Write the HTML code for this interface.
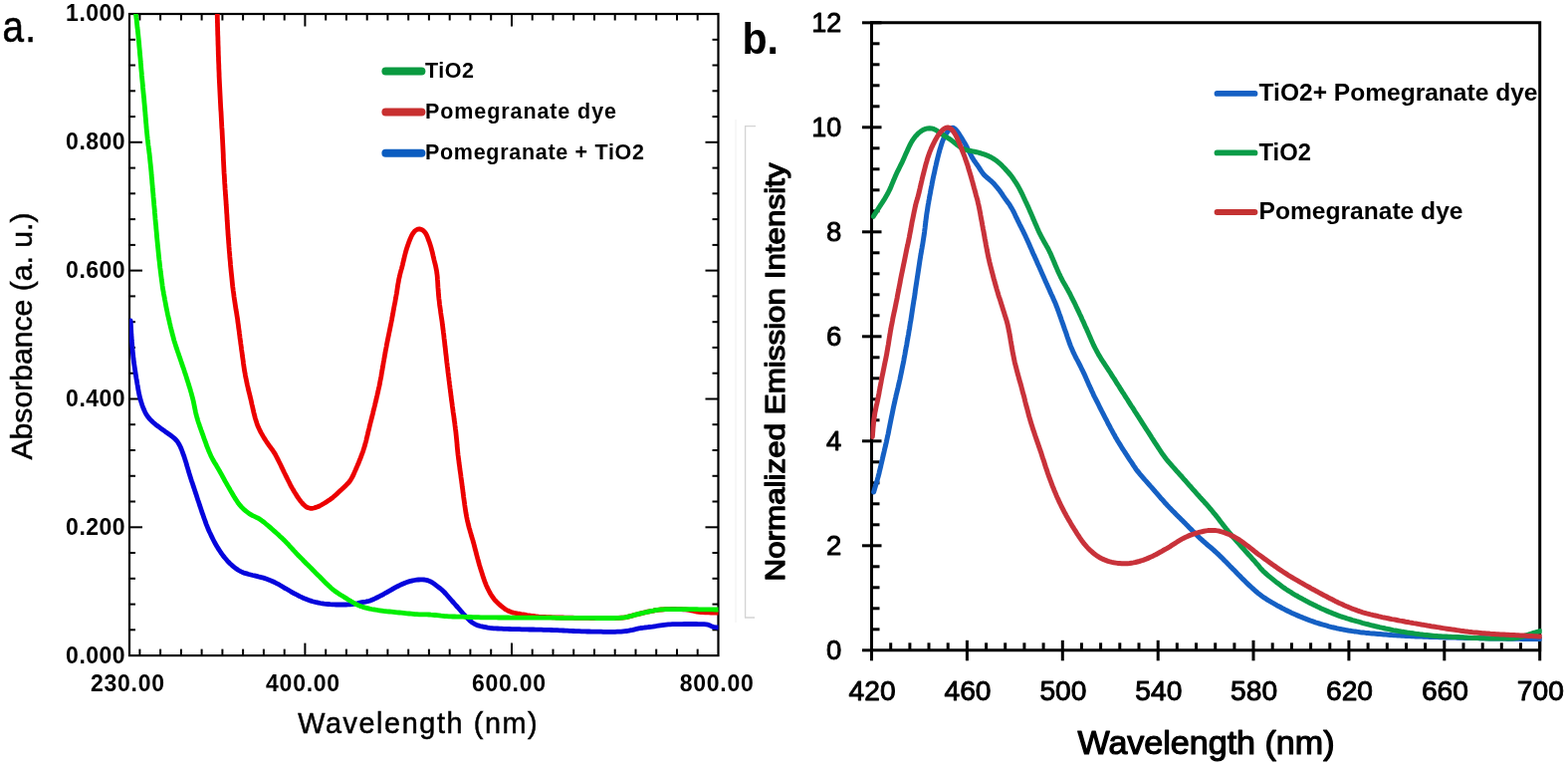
<!DOCTYPE html>
<html><head><meta charset="utf-8"><title>Absorbance and emission spectra</title>
<style>html,body{margin:0;padding:0;background:#fff;width:1575px;height:771px;overflow:hidden}svg{display:block}</style>
</head><body>
<svg width="1575" height="771" viewBox="0 0 1575 771" font-family='"Liberation Sans", Arial, Helvetica, sans-serif'>
<rect x="0" y="0" width="1575" height="771" fill="#fff"/>
<defs><clipPath id="ca"><rect x="130.0" y="14.0" width="591.5" height="644.1"/></clipPath><clipPath id="cb"><rect x="874.5" y="20.8" width="674.2" height="632.0"/></clipPath></defs>
<path d="M759 126.6 H748.6 V620 H758" fill="none" stroke="#d4d4d4" stroke-width="1.3"/>
<line x1="739" y1="120" x2="739" y2="625" stroke="#f0f0f0" stroke-width="1"/>
<rect x="130.0" y="14.0" width="591.5" height="644.1" fill="none" stroke="#000" stroke-width="2.2"/>
<line x1="140.4" y1="658.1" x2="140.4" y2="651.6" stroke="#000" stroke-width="2.0"/>
<line x1="140.4" y1="14.0" x2="140.4" y2="20.5" stroke="#000" stroke-width="2.0"/>
<line x1="161.1" y1="658.1" x2="161.1" y2="651.6" stroke="#000" stroke-width="2.0"/>
<line x1="161.1" y1="14.0" x2="161.1" y2="20.5" stroke="#000" stroke-width="2.0"/>
<line x1="181.9" y1="658.1" x2="181.9" y2="651.6" stroke="#000" stroke-width="2.0"/>
<line x1="181.9" y1="14.0" x2="181.9" y2="20.5" stroke="#000" stroke-width="2.0"/>
<line x1="202.6" y1="658.1" x2="202.6" y2="651.6" stroke="#000" stroke-width="2.0"/>
<line x1="202.6" y1="14.0" x2="202.6" y2="20.5" stroke="#000" stroke-width="2.0"/>
<line x1="223.4" y1="658.1" x2="223.4" y2="651.6" stroke="#000" stroke-width="2.0"/>
<line x1="223.4" y1="14.0" x2="223.4" y2="20.5" stroke="#000" stroke-width="2.0"/>
<line x1="244.1" y1="658.1" x2="244.1" y2="651.6" stroke="#000" stroke-width="2.0"/>
<line x1="244.1" y1="14.0" x2="244.1" y2="20.5" stroke="#000" stroke-width="2.0"/>
<line x1="264.9" y1="658.1" x2="264.9" y2="651.6" stroke="#000" stroke-width="2.0"/>
<line x1="264.9" y1="14.0" x2="264.9" y2="20.5" stroke="#000" stroke-width="2.0"/>
<line x1="285.7" y1="658.1" x2="285.7" y2="651.6" stroke="#000" stroke-width="2.0"/>
<line x1="285.7" y1="14.0" x2="285.7" y2="20.5" stroke="#000" stroke-width="2.0"/>
<line x1="306.4" y1="658.1" x2="306.4" y2="645.6" stroke="#000" stroke-width="2.0"/>
<line x1="306.4" y1="14.0" x2="306.4" y2="26.5" stroke="#000" stroke-width="2.0"/>
<line x1="327.2" y1="658.1" x2="327.2" y2="651.6" stroke="#000" stroke-width="2.0"/>
<line x1="327.2" y1="14.0" x2="327.2" y2="20.5" stroke="#000" stroke-width="2.0"/>
<line x1="347.9" y1="658.1" x2="347.9" y2="651.6" stroke="#000" stroke-width="2.0"/>
<line x1="347.9" y1="14.0" x2="347.9" y2="20.5" stroke="#000" stroke-width="2.0"/>
<line x1="368.7" y1="658.1" x2="368.7" y2="651.6" stroke="#000" stroke-width="2.0"/>
<line x1="368.7" y1="14.0" x2="368.7" y2="20.5" stroke="#000" stroke-width="2.0"/>
<line x1="389.4" y1="658.1" x2="389.4" y2="651.6" stroke="#000" stroke-width="2.0"/>
<line x1="389.4" y1="14.0" x2="389.4" y2="20.5" stroke="#000" stroke-width="2.0"/>
<line x1="410.2" y1="658.1" x2="410.2" y2="651.6" stroke="#000" stroke-width="2.0"/>
<line x1="410.2" y1="14.0" x2="410.2" y2="20.5" stroke="#000" stroke-width="2.0"/>
<line x1="430.9" y1="658.1" x2="430.9" y2="651.6" stroke="#000" stroke-width="2.0"/>
<line x1="430.9" y1="14.0" x2="430.9" y2="20.5" stroke="#000" stroke-width="2.0"/>
<line x1="451.7" y1="658.1" x2="451.7" y2="651.6" stroke="#000" stroke-width="2.0"/>
<line x1="451.7" y1="14.0" x2="451.7" y2="20.5" stroke="#000" stroke-width="2.0"/>
<line x1="472.4" y1="658.1" x2="472.4" y2="651.6" stroke="#000" stroke-width="2.0"/>
<line x1="472.4" y1="14.0" x2="472.4" y2="20.5" stroke="#000" stroke-width="2.0"/>
<line x1="493.2" y1="658.1" x2="493.2" y2="651.6" stroke="#000" stroke-width="2.0"/>
<line x1="493.2" y1="14.0" x2="493.2" y2="20.5" stroke="#000" stroke-width="2.0"/>
<line x1="514.0" y1="658.1" x2="514.0" y2="645.6" stroke="#000" stroke-width="2.0"/>
<line x1="514.0" y1="14.0" x2="514.0" y2="26.5" stroke="#000" stroke-width="2.0"/>
<line x1="534.7" y1="658.1" x2="534.7" y2="651.6" stroke="#000" stroke-width="2.0"/>
<line x1="534.7" y1="14.0" x2="534.7" y2="20.5" stroke="#000" stroke-width="2.0"/>
<line x1="555.5" y1="658.1" x2="555.5" y2="651.6" stroke="#000" stroke-width="2.0"/>
<line x1="555.5" y1="14.0" x2="555.5" y2="20.5" stroke="#000" stroke-width="2.0"/>
<line x1="576.2" y1="658.1" x2="576.2" y2="651.6" stroke="#000" stroke-width="2.0"/>
<line x1="576.2" y1="14.0" x2="576.2" y2="20.5" stroke="#000" stroke-width="2.0"/>
<line x1="597.0" y1="658.1" x2="597.0" y2="651.6" stroke="#000" stroke-width="2.0"/>
<line x1="597.0" y1="14.0" x2="597.0" y2="20.5" stroke="#000" stroke-width="2.0"/>
<line x1="617.7" y1="658.1" x2="617.7" y2="651.6" stroke="#000" stroke-width="2.0"/>
<line x1="617.7" y1="14.0" x2="617.7" y2="20.5" stroke="#000" stroke-width="2.0"/>
<line x1="638.5" y1="658.1" x2="638.5" y2="651.6" stroke="#000" stroke-width="2.0"/>
<line x1="638.5" y1="14.0" x2="638.5" y2="20.5" stroke="#000" stroke-width="2.0"/>
<line x1="659.2" y1="658.1" x2="659.2" y2="651.6" stroke="#000" stroke-width="2.0"/>
<line x1="659.2" y1="14.0" x2="659.2" y2="20.5" stroke="#000" stroke-width="2.0"/>
<line x1="680.0" y1="658.1" x2="680.0" y2="651.6" stroke="#000" stroke-width="2.0"/>
<line x1="680.0" y1="14.0" x2="680.0" y2="20.5" stroke="#000" stroke-width="2.0"/>
<line x1="700.7" y1="658.1" x2="700.7" y2="651.6" stroke="#000" stroke-width="2.0"/>
<line x1="700.7" y1="14.0" x2="700.7" y2="20.5" stroke="#000" stroke-width="2.0"/>
<line x1="130.0" y1="632.3" x2="136.0" y2="632.3" stroke="#000" stroke-width="2.0"/>
<line x1="721.5" y1="632.3" x2="715.5" y2="632.3" stroke="#000" stroke-width="2.0"/>
<line x1="130.0" y1="606.6" x2="136.0" y2="606.6" stroke="#000" stroke-width="2.0"/>
<line x1="721.5" y1="606.6" x2="715.5" y2="606.6" stroke="#000" stroke-width="2.0"/>
<line x1="130.0" y1="580.8" x2="136.0" y2="580.8" stroke="#000" stroke-width="2.0"/>
<line x1="721.5" y1="580.8" x2="715.5" y2="580.8" stroke="#000" stroke-width="2.0"/>
<line x1="130.0" y1="555.0" x2="136.0" y2="555.0" stroke="#000" stroke-width="2.0"/>
<line x1="721.5" y1="555.0" x2="715.5" y2="555.0" stroke="#000" stroke-width="2.0"/>
<line x1="130.0" y1="529.3" x2="143.0" y2="529.3" stroke="#000" stroke-width="2.0"/>
<line x1="721.5" y1="529.3" x2="708.5" y2="529.3" stroke="#000" stroke-width="2.0"/>
<line x1="130.0" y1="503.5" x2="136.0" y2="503.5" stroke="#000" stroke-width="2.0"/>
<line x1="721.5" y1="503.5" x2="715.5" y2="503.5" stroke="#000" stroke-width="2.0"/>
<line x1="130.0" y1="477.8" x2="136.0" y2="477.8" stroke="#000" stroke-width="2.0"/>
<line x1="721.5" y1="477.8" x2="715.5" y2="477.8" stroke="#000" stroke-width="2.0"/>
<line x1="130.0" y1="452.0" x2="136.0" y2="452.0" stroke="#000" stroke-width="2.0"/>
<line x1="721.5" y1="452.0" x2="715.5" y2="452.0" stroke="#000" stroke-width="2.0"/>
<line x1="130.0" y1="426.2" x2="136.0" y2="426.2" stroke="#000" stroke-width="2.0"/>
<line x1="721.5" y1="426.2" x2="715.5" y2="426.2" stroke="#000" stroke-width="2.0"/>
<line x1="130.0" y1="400.5" x2="143.0" y2="400.5" stroke="#000" stroke-width="2.0"/>
<line x1="721.5" y1="400.5" x2="708.5" y2="400.5" stroke="#000" stroke-width="2.0"/>
<line x1="130.0" y1="374.7" x2="136.0" y2="374.7" stroke="#000" stroke-width="2.0"/>
<line x1="721.5" y1="374.7" x2="715.5" y2="374.7" stroke="#000" stroke-width="2.0"/>
<line x1="130.0" y1="348.9" x2="136.0" y2="348.9" stroke="#000" stroke-width="2.0"/>
<line x1="721.5" y1="348.9" x2="715.5" y2="348.9" stroke="#000" stroke-width="2.0"/>
<line x1="130.0" y1="323.2" x2="136.0" y2="323.2" stroke="#000" stroke-width="2.0"/>
<line x1="721.5" y1="323.2" x2="715.5" y2="323.2" stroke="#000" stroke-width="2.0"/>
<line x1="130.0" y1="297.4" x2="136.0" y2="297.4" stroke="#000" stroke-width="2.0"/>
<line x1="721.5" y1="297.4" x2="715.5" y2="297.4" stroke="#000" stroke-width="2.0"/>
<line x1="130.0" y1="271.6" x2="143.0" y2="271.6" stroke="#000" stroke-width="2.0"/>
<line x1="721.5" y1="271.6" x2="708.5" y2="271.6" stroke="#000" stroke-width="2.0"/>
<line x1="130.0" y1="245.9" x2="136.0" y2="245.9" stroke="#000" stroke-width="2.0"/>
<line x1="721.5" y1="245.9" x2="715.5" y2="245.9" stroke="#000" stroke-width="2.0"/>
<line x1="130.0" y1="220.1" x2="136.0" y2="220.1" stroke="#000" stroke-width="2.0"/>
<line x1="721.5" y1="220.1" x2="715.5" y2="220.1" stroke="#000" stroke-width="2.0"/>
<line x1="130.0" y1="194.3" x2="136.0" y2="194.3" stroke="#000" stroke-width="2.0"/>
<line x1="721.5" y1="194.3" x2="715.5" y2="194.3" stroke="#000" stroke-width="2.0"/>
<line x1="130.0" y1="168.6" x2="136.0" y2="168.6" stroke="#000" stroke-width="2.0"/>
<line x1="721.5" y1="168.6" x2="715.5" y2="168.6" stroke="#000" stroke-width="2.0"/>
<line x1="130.0" y1="142.8" x2="143.0" y2="142.8" stroke="#000" stroke-width="2.0"/>
<line x1="721.5" y1="142.8" x2="708.5" y2="142.8" stroke="#000" stroke-width="2.0"/>
<line x1="130.0" y1="117.1" x2="136.0" y2="117.1" stroke="#000" stroke-width="2.0"/>
<line x1="721.5" y1="117.1" x2="715.5" y2="117.1" stroke="#000" stroke-width="2.0"/>
<line x1="130.0" y1="91.3" x2="136.0" y2="91.3" stroke="#000" stroke-width="2.0"/>
<line x1="721.5" y1="91.3" x2="715.5" y2="91.3" stroke="#000" stroke-width="2.0"/>
<line x1="130.0" y1="65.5" x2="136.0" y2="65.5" stroke="#000" stroke-width="2.0"/>
<line x1="721.5" y1="65.5" x2="715.5" y2="65.5" stroke="#000" stroke-width="2.0"/>
<line x1="130.0" y1="39.8" x2="136.0" y2="39.8" stroke="#000" stroke-width="2.0"/>
<line x1="721.5" y1="39.8" x2="715.5" y2="39.8" stroke="#000" stroke-width="2.0"/>
<g clip-path="url(#ca)" fill="none" stroke-width="4.8" stroke-linejoin="round" stroke-linecap="round"><path d="M218.2 12.0 L218.3 14.0 L218.3 16.0 L218.3 18.0 L218.4 20.0 L218.4 22.0 L218.5 24.0 L218.5 26.0 L218.6 28.0 L218.6 30.0 L218.7 32.0 L218.7 34.0 L218.8 36.0 L218.9 38.0 L218.9 40.0 L219.0 42.0 L219.0 44.0 L219.1 46.0 L219.2 48.0 L219.2 50.0 L219.3 52.0 L219.3 54.0 L219.4 56.0 L219.5 58.0 L219.5 60.0 L219.6 62.0 L219.7 64.0 L219.8 66.0 L219.8 68.0 L219.9 70.0 L220.0 72.0 L220.1 74.0 L220.1 76.0 L220.2 78.0 L220.3 80.0 L220.4 82.0 L220.5 84.0 L220.6 86.0 L220.7 88.0 L220.8 90.0 L220.9 92.0 L221.0 94.0 L221.1 96.0 L221.2 98.0 L221.3 100.0 L221.4 102.0 L221.5 104.0 L221.6 106.0 L221.7 108.0 L221.8 110.0 L222.0 112.0 L222.1 113.9 L222.2 115.9 L222.3 117.9 L222.4 119.9 L222.5 121.9 L222.6 123.9 L222.7 125.9 L222.8 127.9 L223.0 129.9 L223.1 131.9 L223.2 133.9 L223.3 135.9 L223.4 137.9 L223.5 139.9 L223.6 141.9 L223.7 143.9 L223.8 145.9 L223.9 147.9 L224.0 149.9 L224.1 151.9 L224.2 153.9 L224.3 155.9 L224.3 157.9 L224.4 159.9 L224.5 161.9 L224.6 163.9 L224.7 165.9 L224.8 167.9 L224.9 169.9 L225.0 171.9 L225.1 173.9 L225.3 175.9 L225.4 177.9 L225.5 179.9 L225.6 181.9 L225.7 183.9 L225.9 185.9 L226.0 187.9 L226.1 189.9 L226.3 191.9 L226.4 193.8 L226.5 195.8 L226.7 197.8 L226.8 199.8 L227.0 201.8 L227.1 203.8 L227.2 205.8 L227.4 207.8 L227.5 209.8 L227.6 211.8 L227.7 213.8 L227.9 215.8 L228.0 217.8 L228.1 219.8 L228.2 221.8 L228.4 223.8 L228.5 225.8 L228.6 227.8 L228.7 229.8 L228.9 231.8 L229.0 233.8 L229.1 235.8 L229.3 237.8 L229.4 239.8 L229.6 241.8 L229.7 243.8 L229.9 245.7 L230.0 247.7 L230.2 249.7 L230.3 251.7 L230.5 253.7 L230.7 255.7 L230.8 257.7 L231.0 259.7 L231.2 261.7 L231.4 263.7 L231.5 265.7 L231.7 267.7 L231.9 269.7 L232.1 271.7 L232.3 273.7 L232.5 275.6 L232.7 277.6 L232.9 279.6 L233.1 281.6 L233.3 283.6 L233.5 285.6 L233.7 287.6 L234.0 289.6 L234.2 291.5 L234.5 293.5 L234.8 295.5 L235.0 297.5 L235.3 299.5 L235.6 301.5 L235.9 303.4 L236.2 305.4 L236.5 307.4 L236.8 309.4 L237.1 311.3 L237.5 313.3 L237.8 315.3 L238.1 317.3 L238.4 319.2 L238.7 321.2 L238.9 323.2 L239.2 325.2 L239.5 327.2 L239.7 329.2 L240.0 331.1 L240.3 333.1 L240.5 335.1 L240.8 337.1 L241.0 339.1 L241.3 341.1 L241.6 343.0 L241.8 345.0 L242.1 347.0 L242.4 349.0 L242.6 351.0 L242.9 353.0 L243.2 354.9 L243.4 356.9 L243.7 358.9 L244.0 360.9 L244.3 362.9 L244.5 364.8 L244.8 366.8 L245.1 368.8 L245.4 370.8 L245.7 372.8 L246.1 374.7 L246.4 376.7 L246.8 378.7 L247.2 380.6 L247.6 382.6 L248.0 384.5 L248.4 386.5 L248.9 388.4 L249.3 390.4 L249.8 392.3 L250.3 394.3 L250.8 396.2 L251.2 398.2 L251.7 400.1 L252.2 402.1 L252.6 404.0 L253.0 406.0 L253.5 407.9 L253.9 409.9 L254.4 411.8 L254.8 413.8 L255.3 415.7 L255.8 417.6 L256.3 419.6 L256.9 421.5 L257.5 423.4 L258.1 425.3 L258.8 427.2 L259.6 429.0 L260.4 430.8 L261.3 432.6 L262.2 434.4 L263.2 436.1 L264.2 437.9 L265.2 439.6 L266.3 441.3 L267.4 443.0 L268.5 444.6 L269.7 446.3 L270.8 447.9 L272.0 449.5 L273.2 451.1 L274.3 452.7 L275.4 454.4 L276.5 456.1 L277.4 457.9 L278.3 459.6 L279.2 461.4 L280.1 463.2 L281.0 465.0 L281.9 466.8 L282.7 468.6 L283.6 470.4 L284.5 472.2 L285.3 474.0 L286.2 475.8 L287.1 477.6 L288.0 479.4 L288.9 481.2 L289.8 483.0 L290.7 484.8 L291.6 486.6 L292.5 488.3 L293.5 490.1 L294.5 491.8 L295.5 493.5 L296.6 495.2 L297.6 496.9 L298.7 498.6 L299.8 500.3 L301.0 501.9 L302.2 503.5 L303.5 505.0 L304.9 506.5 L306.3 507.8 L307.9 509.0 L309.6 509.8 L311.5 510.3 L313.4 510.3 L315.3 510.0 L317.2 509.4 L319.1 508.8 L320.9 508.0 L322.7 507.0 L324.4 506.0 L326.1 505.0 L327.8 503.9 L329.5 502.8 L331.2 501.7 L332.8 500.6 L334.4 499.3 L335.9 498.0 L337.4 496.7 L338.9 495.4 L340.3 494.0 L341.8 492.6 L343.3 491.3 L344.7 489.9 L346.2 488.5 L347.6 487.2 L349.0 485.7 L350.4 484.3 L351.6 482.7 L352.7 481.0 L353.6 479.3 L354.6 477.5 L355.4 475.7 L356.2 473.9 L357.0 472.1 L357.8 470.2 L358.6 468.4 L359.4 466.5 L360.2 464.7 L360.9 462.8 L361.7 461.0 L362.4 459.1 L363.1 457.2 L363.8 455.4 L364.5 453.5 L365.1 451.6 L365.7 449.7 L366.3 447.8 L366.8 445.8 L367.4 443.9 L367.9 442.0 L368.3 440.0 L368.8 438.1 L369.3 436.1 L369.7 434.2 L370.2 432.2 L370.7 430.3 L371.1 428.4 L371.6 426.4 L372.1 424.5 L372.6 422.5 L373.1 420.6 L373.6 418.7 L374.1 416.7 L374.6 414.8 L375.0 412.8 L375.5 410.9 L376.0 409.0 L376.5 407.0 L376.9 405.1 L377.4 403.1 L377.9 401.2 L378.3 399.2 L378.8 397.3 L379.2 395.3 L379.7 393.4 L380.1 391.4 L380.5 389.5 L381.0 387.5 L381.4 385.6 L381.7 383.6 L382.1 381.6 L382.5 379.7 L382.9 377.7 L383.2 375.7 L383.5 373.8 L383.9 371.8 L384.2 369.8 L384.6 367.8 L384.9 365.9 L385.2 363.9 L385.6 361.9 L385.9 360.0 L386.3 358.0 L386.6 356.0 L387.0 354.0 L387.3 352.1 L387.7 350.1 L388.1 348.1 L388.4 346.2 L388.8 344.2 L389.2 342.3 L389.6 340.3 L390.0 338.3 L390.4 336.4 L390.8 334.4 L391.2 332.5 L391.6 330.5 L392.0 328.5 L392.4 326.6 L392.8 324.6 L393.2 322.6 L393.6 320.7 L393.9 318.7 L394.3 316.7 L394.7 314.8 L395.0 312.8 L395.4 310.8 L395.7 308.9 L396.1 306.9 L396.5 304.9 L396.9 303.0 L397.2 301.0 L397.6 299.0 L397.9 297.1 L398.3 295.1 L398.6 293.1 L398.9 291.2 L399.2 289.2 L399.5 287.2 L399.8 285.2 L400.2 283.3 L400.5 281.3 L400.9 279.3 L401.4 277.4 L401.8 275.4 L402.3 273.5 L402.8 271.6 L403.4 269.6 L403.9 267.7 L404.4 265.8 L404.8 263.8 L405.3 261.9 L405.8 259.9 L406.2 258.0 L406.7 256.0 L407.2 254.1 L407.7 252.2 L408.3 250.2 L408.9 248.3 L409.6 246.4 L410.2 244.6 L410.9 242.7 L411.6 240.8 L412.4 239.0 L413.2 237.1 L414.1 235.4 L415.2 233.7 L416.4 232.2 L417.9 231.0 L419.6 230.1 L421.3 229.9 L423.1 230.3 L424.8 231.2 L426.2 232.5 L427.4 234.0 L428.4 235.7 L429.2 237.5 L429.9 239.4 L430.6 241.3 L431.3 243.1 L431.9 245.0 L432.5 246.9 L433.1 248.9 L433.6 250.8 L434.1 252.7 L434.6 254.7 L435.0 256.6 L435.5 258.6 L435.9 260.5 L436.4 262.5 L436.9 264.4 L437.4 266.3 L437.8 268.3 L438.2 270.3 L438.6 272.2 L438.8 274.2 L439.1 276.2 L439.3 278.2 L439.4 280.2 L439.6 282.2 L439.7 284.2 L439.8 286.2 L439.9 288.2 L440.1 290.2 L440.2 292.1 L440.4 294.1 L440.5 296.1 L440.7 298.1 L440.9 300.1 L441.2 302.1 L441.4 304.1 L441.6 306.1 L441.9 308.1 L442.2 310.0 L442.5 312.0 L442.7 314.0 L443.0 316.0 L443.3 318.0 L443.6 319.9 L443.9 321.9 L444.2 323.9 L444.4 325.9 L444.7 327.9 L444.9 329.9 L445.2 331.8 L445.4 333.8 L445.7 335.8 L445.9 337.8 L446.1 339.8 L446.4 341.8 L446.6 343.8 L446.8 345.7 L447.0 347.7 L447.3 349.7 L447.5 351.7 L447.7 353.7 L447.9 355.7 L448.2 357.7 L448.4 359.7 L448.6 361.7 L448.8 363.6 L449.1 365.6 L449.3 367.6 L449.6 369.6 L449.8 371.6 L450.0 373.6 L450.3 375.6 L450.5 377.5 L450.8 379.5 L451.0 381.5 L451.3 383.5 L451.5 385.5 L451.8 387.5 L452.0 389.5 L452.3 391.4 L452.5 393.4 L452.8 395.4 L453.0 397.4 L453.3 399.4 L453.5 401.4 L453.8 403.3 L454.1 405.3 L454.3 407.3 L454.6 409.3 L454.9 411.3 L455.1 413.3 L455.4 415.2 L455.7 417.2 L456.0 419.2 L456.2 421.2 L456.5 423.2 L456.8 425.1 L457.0 427.1 L457.3 429.1 L457.5 431.1 L457.8 433.1 L458.0 435.1 L458.2 437.1 L458.4 439.1 L458.6 441.0 L458.8 443.0 L459.0 445.0 L459.1 447.0 L459.3 449.0 L459.5 451.0 L459.7 453.0 L459.9 455.0 L460.1 457.0 L460.4 459.0 L460.6 460.9 L460.9 462.9 L461.1 464.9 L461.4 466.9 L461.7 468.9 L461.9 470.9 L462.2 472.8 L462.5 474.8 L462.8 476.8 L463.0 478.8 L463.3 480.8 L463.6 482.8 L463.8 484.7 L464.1 486.7 L464.3 488.7 L464.6 490.7 L464.9 492.7 L465.1 494.7 L465.4 496.6 L465.6 498.6 L465.9 500.6 L466.2 502.6 L466.5 504.6 L466.7 506.5 L467.0 508.5 L467.3 510.5 L467.6 512.5 L467.9 514.5 L468.3 516.4 L468.6 518.4 L469.0 520.4 L469.4 522.3 L469.9 524.3 L470.3 526.2 L470.8 528.2 L471.3 530.1 L471.9 532.0 L472.4 533.9 L473.0 535.9 L473.5 537.8 L474.1 539.7 L474.7 541.6 L475.2 543.5 L475.8 545.5 L476.3 547.4 L476.8 549.3 L477.3 551.3 L477.8 553.2 L478.3 555.1 L478.8 557.1 L479.3 559.0 L479.8 560.9 L480.4 562.9 L480.9 564.8 L481.4 566.7 L482.0 568.6 L482.6 570.6 L483.2 572.5 L483.8 574.4 L484.4 576.3 L485.0 578.2 L485.6 580.1 L486.3 582.0 L486.9 583.9 L487.7 585.7 L488.4 587.6 L489.2 589.4 L490.1 591.2 L491.0 593.0 L491.9 594.8 L492.9 596.5 L494.0 598.2 L495.1 599.8 L496.3 601.4 L497.6 603.0 L499.0 604.4 L500.4 605.8 L501.9 607.1 L503.4 608.4 L505.0 609.7 L506.6 610.9 L508.2 612.0 L510.0 613.0 L511.8 613.8 L513.6 614.5 L515.5 615.1 L517.5 615.5 L519.5 615.9 L521.4 616.2 L523.4 616.6 L525.4 616.9 L527.3 617.2 L529.3 617.6 L531.3 617.9 L533.3 618.2 L535.2 618.4 L537.2 618.7 L539.2 619.0 L541.2 619.2 L543.2 619.3 L545.2 619.4 L547.2 619.5 L549.2 619.6 L551.2 619.6 L553.2 619.7 L555.2 619.8 L557.2 619.8 L559.2 619.9 L561.2 619.9 L563.2 620.0 L565.2 620.0 L567.2 620.1 L569.2 620.1 L571.2 620.2 L573.2 620.2 L575.2 620.2 L577.2 620.3 L579.2 620.3 L581.2 620.3 L583.2 620.3 L585.2 620.4 L587.2 620.4 L589.2 620.4 L591.2 620.4 L593.2 620.5 L595.2 620.5 L597.2 620.5 L599.2 620.5 L601.2 620.5 L603.2 620.6 L605.2 620.6 L607.2 620.6 L609.2 620.6 L611.2 620.6 L613.2 620.5 L615.2 620.5 L617.2 620.5 L619.2 620.4 L621.2 620.4 L623.2 620.2 L625.2 620.1 L627.2 619.9 L629.1 619.6 L631.1 619.1 L633.0 618.6 L634.9 618.1 L636.9 617.5 L638.8 617.0 L640.7 616.6 L642.7 616.1 L644.6 615.6 L646.6 615.1 L648.5 614.7 L650.5 614.2 L652.4 613.8 L654.4 613.4 L656.4 613.1 L658.3 612.7 L660.3 612.5 L662.3 612.2 L664.3 612.0 L666.3 611.9 L668.3 611.7 L670.3 611.6 L672.3 611.6 L674.3 611.5 L676.3 611.5 L678.3 611.5 L680.3 611.6 L682.3 611.6 L684.3 611.7 L686.3 611.8 L688.3 611.9 L690.3 612.1 L692.2 612.4 L694.2 612.8 L696.1 613.2 L698.1 613.7 L700.0 614.1 L702.0 614.3 L704.0 614.5 L706.0 614.7 L708.0 614.8 L710.0 614.8 L712.0 614.9 L714.0 615.0 L716.0 615.0 L718.0 615.1 L720.0 615.1 L722.0 615.2 L723.0 615.2" stroke="#ec0000"/><path d="M131.2 322.0 L131.3 324.0 L131.4 326.0 L131.5 328.0 L131.6 330.0 L131.7 332.0 L131.8 334.0 L131.9 336.0 L132.1 338.0 L132.2 340.0 L132.3 342.0 L132.5 344.0 L132.7 346.0 L132.8 348.0 L133.0 350.0 L133.2 352.0 L133.4 353.9 L133.6 355.9 L133.8 357.9 L134.0 359.9 L134.3 361.9 L134.5 363.9 L134.8 365.9 L135.1 367.9 L135.4 369.8 L135.7 371.8 L136.0 373.8 L136.3 375.8 L136.6 377.7 L136.9 379.7 L137.3 381.7 L137.6 383.7 L137.9 385.6 L138.3 387.6 L138.6 389.6 L138.9 391.6 L139.3 393.5 L139.7 395.5 L140.1 397.4 L140.6 399.4 L141.1 401.3 L141.7 403.2 L142.3 405.1 L142.9 407.0 L143.6 408.9 L144.4 410.8 L145.2 412.6 L146.0 414.4 L147.0 416.1 L148.1 417.8 L149.3 419.4 L150.6 420.9 L152.0 422.3 L153.5 423.7 L155.0 425.0 L156.5 426.3 L158.1 427.5 L159.7 428.7 L161.3 429.9 L162.9 431.1 L164.6 432.2 L166.2 433.4 L167.8 434.5 L169.5 435.7 L171.1 436.8 L172.7 438.0 L174.3 439.3 L175.8 440.6 L177.1 442.0 L178.4 443.6 L179.4 445.3 L180.4 447.0 L181.3 448.8 L182.1 450.7 L182.8 452.5 L183.5 454.4 L184.2 456.3 L184.9 458.2 L185.5 460.1 L186.1 462.0 L186.7 463.9 L187.3 465.8 L187.8 467.7 L188.4 469.6 L189.0 471.6 L189.5 473.5 L190.1 475.4 L190.7 477.3 L191.3 479.2 L191.9 481.1 L192.5 483.0 L193.2 484.9 L193.8 486.8 L194.4 488.7 L195.1 490.6 L195.7 492.5 L196.3 494.4 L197.0 496.3 L197.6 498.2 L198.2 500.1 L198.8 502.0 L199.5 503.9 L200.1 505.8 L200.7 507.7 L201.4 509.6 L202.0 511.5 L202.6 513.4 L203.3 515.3 L204.0 517.2 L204.6 519.1 L205.3 521.0 L206.0 522.8 L206.6 524.7 L207.3 526.6 L208.1 528.5 L208.8 530.3 L209.6 532.2 L210.4 534.0 L211.3 535.8 L212.1 537.6 L213.0 539.4 L213.9 541.2 L214.8 543.0 L215.7 544.8 L216.7 546.5 L217.7 548.2 L218.7 549.9 L219.8 551.6 L220.9 553.3 L222.0 555.0 L223.2 556.6 L224.4 558.2 L225.6 559.8 L226.9 561.3 L228.2 562.8 L229.6 564.3 L231.0 565.7 L232.5 567.0 L234.0 568.4 L235.5 569.6 L237.1 570.8 L238.8 572.0 L240.5 573.0 L242.2 573.9 L244.1 574.7 L245.9 575.4 L247.9 575.9 L249.8 576.5 L251.7 577.0 L253.7 577.5 L255.6 577.9 L257.6 578.4 L259.5 578.9 L261.4 579.3 L263.4 579.8 L265.3 580.4 L267.2 581.0 L269.1 581.7 L270.9 582.4 L272.8 583.2 L274.6 584.0 L276.4 584.9 L278.2 585.8 L280.0 586.7 L281.7 587.7 L283.4 588.7 L285.1 589.8 L286.9 590.8 L288.6 591.8 L290.3 592.8 L292.0 593.8 L293.8 594.8 L295.6 595.8 L297.3 596.7 L299.1 597.6 L300.9 598.6 L302.7 599.4 L304.5 600.3 L306.3 601.1 L308.2 601.8 L310.1 602.5 L312.0 603.1 L313.9 603.7 L315.8 604.2 L317.7 604.7 L319.7 605.1 L321.7 605.5 L323.6 605.8 L325.6 606.1 L327.6 606.3 L329.6 606.5 L331.6 606.7 L333.6 606.8 L335.6 606.9 L337.6 607.0 L339.6 607.0 L341.6 607.0 L343.6 607.0 L345.6 607.0 L347.6 607.0 L349.6 606.9 L351.6 606.8 L353.6 606.6 L355.6 606.4 L357.5 606.0 L359.5 605.6 L361.4 605.1 L363.4 604.7 L365.3 604.4 L367.3 604.1 L369.3 603.7 L371.2 603.2 L373.0 602.5 L374.9 601.7 L376.7 600.9 L378.5 600.0 L380.3 599.1 L382.1 598.2 L383.8 597.3 L385.6 596.3 L387.3 595.3 L389.1 594.3 L390.8 593.4 L392.6 592.4 L394.3 591.4 L396.0 590.4 L397.8 589.4 L399.6 588.5 L401.4 587.6 L403.2 586.8 L405.0 586.0 L406.8 585.2 L408.7 584.5 L410.6 583.9 L412.5 583.3 L414.5 582.8 L416.4 582.5 L418.4 582.2 L420.4 582.0 L422.4 581.9 L424.4 581.9 L426.4 582.0 L428.3 582.4 L430.2 582.9 L432.1 583.7 L433.8 584.6 L435.5 585.7 L437.1 586.9 L438.7 588.1 L440.3 589.3 L441.9 590.5 L443.4 591.8 L444.9 593.1 L446.3 594.5 L447.7 596.0 L449.0 597.5 L450.3 599.0 L451.6 600.5 L452.9 602.0 L454.2 603.5 L455.6 605.0 L456.9 606.5 L458.2 608.0 L459.6 609.5 L460.9 611.0 L462.2 612.5 L463.5 614.0 L464.8 615.6 L466.2 617.1 L467.5 618.5 L468.9 620.0 L470.3 621.4 L471.7 622.8 L473.3 624.1 L474.8 625.3 L476.5 626.3 L478.3 627.2 L480.2 627.9 L482.1 628.5 L484.0 628.9 L486.0 629.3 L487.9 629.7 L489.9 630.1 L491.9 630.4 L493.9 630.6 L495.9 630.8 L497.9 630.9 L499.9 631.0 L501.9 631.1 L503.9 631.2 L505.9 631.3 L507.9 631.4 L509.9 631.4 L511.9 631.5 L513.9 631.6 L515.9 631.6 L517.9 631.7 L519.9 631.7 L521.9 631.7 L523.9 631.8 L525.9 631.8 L527.9 631.9 L529.9 631.9 L531.9 632.0 L533.9 632.0 L535.9 632.0 L537.9 632.1 L539.9 632.1 L541.9 632.2 L543.9 632.2 L545.9 632.3 L547.9 632.3 L549.9 632.4 L551.9 632.4 L553.9 632.5 L555.9 632.6 L557.9 632.6 L559.9 632.7 L561.9 632.8 L563.9 632.9 L565.9 633.0 L567.9 633.1 L569.9 633.2 L571.9 633.3 L573.9 633.4 L575.9 633.5 L577.9 633.6 L579.9 633.6 L581.9 633.7 L583.9 633.8 L585.9 633.9 L587.9 633.9 L589.9 634.0 L591.9 634.0 L593.9 634.1 L595.9 634.1 L597.9 634.2 L599.9 634.2 L601.9 634.2 L603.9 634.2 L605.9 634.3 L607.9 634.3 L609.9 634.3 L611.9 634.3 L613.9 634.3 L615.9 634.3 L617.9 634.3 L619.9 634.2 L621.9 634.1 L623.9 634.1 L625.9 633.9 L627.9 633.7 L629.9 633.5 L631.8 633.1 L633.8 632.7 L635.7 632.3 L637.7 631.8 L639.6 631.3 L641.6 630.9 L643.5 630.5 L645.5 630.3 L647.5 630.0 L649.5 629.8 L651.5 629.5 L653.5 629.3 L655.5 629.1 L657.4 628.8 L659.4 628.5 L661.4 628.2 L663.4 627.9 L665.3 627.6 L667.3 627.3 L669.3 627.1 L671.3 626.9 L673.3 626.8 L675.3 626.7 L677.3 626.7 L679.3 626.6 L681.3 626.6 L683.3 626.6 L685.3 626.6 L687.3 626.5 L689.3 626.5 L691.3 626.5 L693.3 626.5 L695.3 626.5 L697.3 626.5 L699.3 626.5 L701.3 626.6 L703.3 626.6 L705.3 626.6 L707.3 626.7 L709.3 626.9 L711.2 627.2 L712.9 627.8 L714.6 628.6 L716.2 629.3 L718.1 629.7 L720.0 629.9 L722.0 630.0 L723.0 630.0" stroke="#0505dc"/><path d="M136.3 12.0 L136.5 14.0 L136.7 16.0 L136.9 18.0 L137.2 20.0 L137.4 21.9 L137.6 23.9 L137.8 25.9 L138.0 27.9 L138.3 29.9 L138.5 31.9 L138.7 33.9 L138.9 35.9 L139.1 37.9 L139.3 39.9 L139.5 41.8 L139.7 43.8 L139.8 45.8 L140.0 47.8 L140.2 49.8 L140.4 51.8 L140.5 53.8 L140.7 55.8 L140.9 57.8 L141.1 59.8 L141.2 61.8 L141.4 63.8 L141.6 65.8 L141.7 67.8 L141.9 69.8 L142.1 71.8 L142.3 73.7 L142.4 75.7 L142.6 77.7 L142.8 79.7 L143.0 81.7 L143.2 83.7 L143.4 85.7 L143.5 87.7 L143.7 89.7 L143.9 91.7 L144.1 93.7 L144.3 95.7 L144.5 97.7 L144.7 99.6 L144.8 101.6 L145.0 103.6 L145.2 105.6 L145.4 107.6 L145.5 109.6 L145.7 111.6 L145.9 113.6 L146.0 115.6 L146.2 117.6 L146.4 119.6 L146.5 121.6 L146.7 123.6 L146.9 125.6 L147.0 127.6 L147.2 129.6 L147.4 131.5 L147.6 133.5 L147.8 135.5 L148.0 137.5 L148.2 139.5 L148.5 141.5 L148.7 143.5 L148.9 145.5 L149.2 147.5 L149.4 149.4 L149.7 151.4 L149.9 153.4 L150.2 155.4 L150.4 157.4 L150.6 159.4 L150.8 161.4 L151.0 163.4 L151.2 165.3 L151.4 167.3 L151.6 169.3 L151.8 171.3 L152.0 173.3 L152.1 175.3 L152.3 177.3 L152.5 179.3 L152.7 181.3 L152.8 183.3 L153.0 185.3 L153.2 187.3 L153.3 189.3 L153.5 191.3 L153.7 193.3 L153.9 195.2 L154.0 197.2 L154.2 199.2 L154.4 201.2 L154.6 203.2 L154.7 205.2 L154.9 207.2 L155.1 209.2 L155.3 211.2 L155.4 213.2 L155.6 215.2 L155.8 217.2 L155.9 219.2 L156.1 221.2 L156.3 223.2 L156.5 225.2 L156.7 227.1 L156.8 229.1 L157.0 231.1 L157.2 233.1 L157.4 235.1 L157.5 237.1 L157.7 239.1 L157.9 241.1 L158.1 243.1 L158.3 245.1 L158.5 247.1 L158.7 249.1 L158.9 251.1 L159.1 253.0 L159.3 255.0 L159.5 257.0 L159.7 259.0 L159.9 261.0 L160.2 263.0 L160.4 265.0 L160.6 267.0 L160.8 269.0 L161.1 270.9 L161.3 272.9 L161.6 274.9 L161.8 276.9 L162.1 278.9 L162.3 280.9 L162.6 282.9 L162.9 284.8 L163.1 286.8 L163.4 288.8 L163.7 290.8 L164.1 292.7 L164.4 294.7 L164.8 296.7 L165.2 298.7 L165.5 300.6 L165.9 302.6 L166.3 304.6 L166.6 306.5 L167.0 308.5 L167.4 310.4 L167.8 312.4 L168.2 314.4 L168.6 316.3 L169.1 318.3 L169.5 320.2 L170.0 322.2 L170.4 324.1 L170.9 326.1 L171.3 328.0 L171.8 330.0 L172.3 331.9 L172.8 333.8 L173.3 335.8 L173.8 337.7 L174.3 339.7 L174.8 341.6 L175.4 343.5 L176.0 345.4 L176.6 347.3 L177.2 349.2 L177.9 351.1 L178.5 353.0 L179.2 354.9 L179.8 356.8 L180.5 358.7 L181.1 360.6 L181.8 362.5 L182.4 364.4 L183.1 366.3 L183.7 368.2 L184.4 370.0 L185.0 371.9 L185.6 373.8 L186.3 375.7 L186.9 377.6 L187.5 379.5 L188.1 381.5 L188.7 383.4 L189.3 385.3 L189.9 387.2 L190.5 389.1 L191.1 391.0 L191.6 392.9 L192.2 394.9 L192.7 396.8 L193.2 398.7 L193.7 400.6 L194.2 402.6 L194.6 404.5 L195.0 406.5 L195.4 408.5 L195.8 410.4 L196.2 412.4 L196.6 414.3 L197.1 416.3 L197.6 418.2 L198.2 420.2 L198.7 422.1 L199.3 424.0 L200.0 425.9 L200.6 427.8 L201.3 429.7 L201.9 431.5 L202.6 433.4 L203.3 435.3 L204.0 437.2 L204.6 439.1 L205.3 441.0 L206.0 442.9 L206.7 444.7 L207.3 446.6 L208.0 448.5 L208.8 450.4 L209.5 452.2 L210.3 454.1 L211.1 455.9 L211.9 457.7 L212.8 459.5 L213.7 461.3 L214.7 463.0 L215.7 464.7 L216.8 466.4 L217.8 468.2 L218.8 469.9 L219.8 471.6 L220.8 473.3 L221.8 475.1 L222.8 476.9 L223.7 478.6 L224.7 480.4 L225.6 482.1 L226.6 483.9 L227.6 485.6 L228.6 487.4 L229.6 489.1 L230.6 490.8 L231.6 492.6 L232.6 494.3 L233.6 496.0 L234.6 497.7 L235.6 499.4 L236.7 501.1 L237.8 502.8 L238.9 504.5 L240.1 506.1 L241.4 507.6 L242.7 509.1 L244.1 510.5 L245.6 511.9 L247.1 513.2 L248.7 514.4 L250.3 515.6 L252.0 516.6 L253.7 517.6 L255.5 518.4 L257.4 519.3 L259.1 520.2 L260.9 521.2 L262.5 522.3 L264.1 523.5 L265.7 524.7 L267.2 526.0 L268.8 527.3 L270.3 528.6 L271.8 529.9 L273.3 531.2 L274.8 532.6 L276.3 533.9 L277.8 535.2 L279.3 536.5 L280.7 537.9 L282.2 539.3 L283.7 540.6 L285.1 542.0 L286.5 543.4 L287.9 544.9 L289.3 546.3 L290.6 547.8 L292.0 549.3 L293.3 550.8 L294.7 552.2 L296.0 553.7 L297.4 555.2 L298.8 556.6 L300.1 558.1 L301.6 559.5 L303.0 560.9 L304.4 562.3 L305.8 563.8 L307.2 565.2 L308.6 566.6 L310.1 568.0 L311.5 569.4 L312.9 570.8 L314.3 572.2 L315.7 573.6 L317.1 575.1 L318.5 576.5 L320.0 577.9 L321.4 579.3 L322.8 580.7 L324.2 582.1 L325.6 583.6 L327.0 585.0 L328.5 586.4 L329.9 587.8 L331.3 589.1 L332.8 590.5 L334.4 591.8 L335.9 593.0 L337.6 594.2 L339.2 595.3 L340.9 596.4 L342.6 597.5 L344.3 598.5 L346.0 599.6 L347.7 600.6 L349.4 601.7 L351.1 602.7 L352.8 603.8 L354.5 604.8 L356.2 605.8 L358.0 606.8 L359.8 607.6 L361.6 608.4 L363.5 609.0 L365.4 609.6 L367.4 610.2 L369.3 610.6 L371.3 611.1 L373.2 611.5 L375.2 611.8 L377.2 612.2 L379.1 612.5 L381.1 612.8 L383.1 613.1 L385.1 613.4 L387.0 613.6 L389.0 613.8 L391.0 614.0 L393.0 614.2 L395.0 614.4 L397.0 614.6 L399.0 614.8 L401.0 615.0 L403.0 615.2 L405.0 615.4 L407.0 615.6 L408.9 615.8 L410.9 616.0 L412.9 616.2 L414.9 616.4 L416.9 616.6 L418.9 616.7 L420.9 616.8 L422.9 616.8 L424.9 616.9 L426.9 616.9 L428.9 616.9 L430.9 617.0 L432.9 617.2 L434.9 617.3 L436.9 617.5 L438.9 617.7 L440.9 617.9 L442.9 618.2 L444.9 618.4 L446.8 618.6 L448.8 618.7 L450.8 618.8 L452.8 618.9 L454.8 619.0 L456.8 619.0 L458.8 619.1 L460.8 619.1 L462.8 619.2 L464.8 619.2 L466.8 619.3 L468.8 619.4 L470.8 619.5 L472.8 619.5 L474.8 619.6 L476.8 619.6 L478.8 619.7 L480.8 619.7 L482.8 619.8 L484.8 619.8 L486.8 619.8 L488.8 619.8 L490.8 619.9 L492.8 619.9 L494.8 619.9 L496.8 619.9 L498.8 619.9 L500.8 620.0 L502.8 620.0 L504.8 620.0 L506.9 620.0 L508.9 620.0 L510.9 620.0 L512.9 620.1 L514.9 620.1 L516.9 620.1 L518.9 620.1 L520.9 620.1 L522.9 620.1 L524.9 620.1 L526.9 620.1 L528.9 620.1 L530.9 620.2 L532.9 620.2 L534.9 620.2 L536.9 620.2 L538.9 620.2 L540.9 620.2 L542.9 620.2 L544.9 620.2 L546.9 620.2 L548.9 620.2 L550.9 620.2 L552.9 620.2 L554.9 620.2 L556.9 620.2 L558.9 620.3 L560.9 620.3 L562.9 620.3 L564.9 620.3 L566.9 620.3 L568.9 620.3 L570.9 620.3 L572.9 620.3 L574.9 620.3 L576.9 620.3 L578.9 620.3 L580.9 620.3 L582.9 620.3 L584.9 620.3 L586.9 620.3 L588.9 620.4 L590.9 620.4 L592.9 620.4 L594.9 620.4 L596.9 620.4 L598.9 620.5 L600.9 620.5 L602.9 620.5 L604.9 620.5 L606.9 620.5 L608.9 620.5 L610.9 620.5 L612.9 620.5 L614.9 620.5 L616.9 620.5 L618.9 620.4 L620.9 620.4 L622.9 620.3 L624.9 620.1 L626.9 619.9 L628.9 619.6 L630.8 619.2 L632.8 618.7 L634.7 618.2 L636.6 617.6 L638.5 617.1 L640.5 616.6 L642.4 616.1 L644.4 615.7 L646.3 615.2 L648.2 614.7 L650.2 614.3 L652.2 613.8 L654.1 613.4 L656.1 613.1 L658.0 612.7 L660.0 612.3 L662.0 612.1 L664.0 611.9 L666.0 611.8 L668.0 611.7 L670.0 611.6 L672.0 611.6 L674.0 611.6 L676.0 611.6 L678.0 611.6 L680.0 611.6 L682.0 611.6 L684.0 611.6 L686.0 611.6 L688.0 611.6 L690.0 611.6 L692.0 611.6 L694.0 611.7 L696.0 611.7 L698.0 611.7 L700.0 611.7 L702.0 611.8 L704.0 611.8 L706.0 611.8 L708.0 611.8 L710.0 611.9 L712.0 611.9 L714.0 611.9 L716.0 611.9 L718.0 612.0 L720.0 612.0 L722.0 612.0 L723.0 612.0" stroke="#00ee00"/></g>
<text x="125.6" y="665.5" font-size="23.0" font-weight="bold" text-anchor="end" textLength="59.5" lengthAdjust="spacing" fill="#000">0.000</text>
<text x="125.6" y="536.7" font-size="23.0" font-weight="bold" text-anchor="end" textLength="59.5" lengthAdjust="spacing" fill="#000">0.200</text>
<text x="125.6" y="407.9" font-size="23.0" font-weight="bold" text-anchor="end" textLength="59.5" lengthAdjust="spacing" fill="#000">0.400</text>
<text x="125.6" y="279.0" font-size="23.0" font-weight="bold" text-anchor="end" textLength="59.5" lengthAdjust="spacing" fill="#000">0.600</text>
<text x="125.6" y="150.2" font-size="23.0" font-weight="bold" text-anchor="end" textLength="59.5" lengthAdjust="spacing" fill="#000">0.800</text>
<text x="125.6" y="21.4" font-size="23.0" font-weight="bold" text-anchor="end" textLength="59.5" lengthAdjust="spacing" fill="#000">1.000</text>
<text x="128.0" y="694.2" font-size="23.0" font-weight="bold" text-anchor="middle" textLength="74.0" lengthAdjust="spacing" fill="#000">230.00</text>
<text x="304.1" y="694.2" font-size="23.0" font-weight="bold" text-anchor="middle" textLength="74.0" lengthAdjust="spacing" fill="#000">400.00</text>
<text x="511.0" y="694.2" font-size="23.0" font-weight="bold" text-anchor="middle" textLength="74.0" lengthAdjust="spacing" fill="#000">600.00</text>
<text x="719.7" y="694.2" font-size="23.0" font-weight="bold" text-anchor="middle" textLength="74.0" lengthAdjust="spacing" fill="#000">800.00</text>
<text x="299.2" y="736.2" font-size="28.8" font-weight="normal" text-anchor="start" textLength="240.5" lengthAdjust="spacing" stroke="#000" stroke-width="0.5" fill="#000">Wavelength (nm)</text>
<text transform="translate(31.5 461.5) rotate(-90)" x="0" y="0" font-size="29.3" textLength="248" lengthAdjust="spacingAndGlyphs" stroke="#000" stroke-width="0.5">Absorbance (a. u.)</text>
<line x1="387.4" y1="71.5" x2="423.4" y2="71.5" stroke="#0a9a40" stroke-width="8.0" stroke-linecap="round"/>
<text x="427.0" y="77.7" font-size="21.5" font-weight="bold" text-anchor="start" textLength="49.0" lengthAdjust="spacing" fill="#000">TiO2</text>
<line x1="387.4" y1="112.6" x2="423.4" y2="112.6" stroke="#c83030" stroke-width="8.0" stroke-linecap="round"/>
<text x="427.0" y="118.8" font-size="21.5" font-weight="bold" text-anchor="start" textLength="192.0" lengthAdjust="spacing" fill="#000">Pomegranate dye</text>
<line x1="387.4" y1="153.8" x2="423.4" y2="153.8" stroke="#0a5cc0" stroke-width="8.0" stroke-linecap="round"/>
<text x="427.0" y="160.0" font-size="21.5" font-weight="bold" text-anchor="start" textLength="220.0" lengthAdjust="spacing" fill="#000">Pomegranate + TiO2</text>
<text transform="translate(2.4 41.6) scale(0.86 1)" font-size="45" stroke="#000" stroke-width="0.6">a<tspan x="26.5">.</tspan></text>
<path d="M875.5 652.8 V22.8 H1546.7 V652.8 Z" fill="none" stroke="#000" stroke-width="3"/>
<line x1="875.5" y1="631.8" x2="883.5" y2="631.8" stroke="#000" stroke-width="3.0"/>
<line x1="875.5" y1="610.8" x2="883.5" y2="610.8" stroke="#000" stroke-width="3.0"/>
<line x1="875.5" y1="589.8" x2="883.5" y2="589.8" stroke="#000" stroke-width="3.0"/>
<line x1="875.5" y1="568.8" x2="883.5" y2="568.8" stroke="#000" stroke-width="3.0"/>
<line x1="866.0" y1="547.8" x2="885.5" y2="547.8" stroke="#000" stroke-width="3.0"/>
<line x1="875.5" y1="526.8" x2="883.5" y2="526.8" stroke="#000" stroke-width="3.0"/>
<line x1="875.5" y1="505.8" x2="883.5" y2="505.8" stroke="#000" stroke-width="3.0"/>
<line x1="875.5" y1="484.8" x2="883.5" y2="484.8" stroke="#000" stroke-width="3.0"/>
<line x1="875.5" y1="463.8" x2="883.5" y2="463.8" stroke="#000" stroke-width="3.0"/>
<line x1="866.0" y1="442.8" x2="885.5" y2="442.8" stroke="#000" stroke-width="3.0"/>
<line x1="875.5" y1="421.8" x2="883.5" y2="421.8" stroke="#000" stroke-width="3.0"/>
<line x1="875.5" y1="400.8" x2="883.5" y2="400.8" stroke="#000" stroke-width="3.0"/>
<line x1="875.5" y1="379.8" x2="883.5" y2="379.8" stroke="#000" stroke-width="3.0"/>
<line x1="875.5" y1="358.8" x2="883.5" y2="358.8" stroke="#000" stroke-width="3.0"/>
<line x1="866.0" y1="337.8" x2="885.5" y2="337.8" stroke="#000" stroke-width="3.0"/>
<line x1="875.5" y1="316.8" x2="883.5" y2="316.8" stroke="#000" stroke-width="3.0"/>
<line x1="875.5" y1="295.8" x2="883.5" y2="295.8" stroke="#000" stroke-width="3.0"/>
<line x1="875.5" y1="274.8" x2="883.5" y2="274.8" stroke="#000" stroke-width="3.0"/>
<line x1="875.5" y1="253.8" x2="883.5" y2="253.8" stroke="#000" stroke-width="3.0"/>
<line x1="866.0" y1="232.8" x2="885.5" y2="232.8" stroke="#000" stroke-width="3.0"/>
<line x1="875.5" y1="211.8" x2="883.5" y2="211.8" stroke="#000" stroke-width="3.0"/>
<line x1="875.5" y1="190.8" x2="883.5" y2="190.8" stroke="#000" stroke-width="3.0"/>
<line x1="875.5" y1="169.8" x2="883.5" y2="169.8" stroke="#000" stroke-width="3.0"/>
<line x1="875.5" y1="148.8" x2="883.5" y2="148.8" stroke="#000" stroke-width="3.0"/>
<line x1="866.0" y1="127.8" x2="885.5" y2="127.8" stroke="#000" stroke-width="3.0"/>
<line x1="875.5" y1="106.8" x2="883.5" y2="106.8" stroke="#000" stroke-width="3.0"/>
<line x1="875.5" y1="85.8" x2="883.5" y2="85.8" stroke="#000" stroke-width="3.0"/>
<line x1="875.5" y1="64.8" x2="883.5" y2="64.8" stroke="#000" stroke-width="3.0"/>
<line x1="875.5" y1="43.8" x2="883.5" y2="43.8" stroke="#000" stroke-width="3.0"/>
<line x1="866.0" y1="22.8" x2="885.5" y2="22.8" stroke="#000" stroke-width="3.0"/>
<line x1="866.0" y1="652.8" x2="875.5" y2="652.8" stroke="#000" stroke-width="3.0"/>
<line x1="875.5" y1="652.8" x2="875.5" y2="663.3" stroke="#000" stroke-width="3.0"/>
<line x1="894.7" y1="652.8" x2="894.7" y2="645.3" stroke="#000" stroke-width="3.0"/>
<line x1="913.9" y1="652.8" x2="913.9" y2="645.3" stroke="#000" stroke-width="3.0"/>
<line x1="933.0" y1="652.8" x2="933.0" y2="645.3" stroke="#000" stroke-width="3.0"/>
<line x1="952.2" y1="652.8" x2="952.2" y2="645.3" stroke="#000" stroke-width="3.0"/>
<line x1="971.4" y1="642.8" x2="971.4" y2="663.3" stroke="#000" stroke-width="3.0"/>
<line x1="990.6" y1="652.8" x2="990.6" y2="645.3" stroke="#000" stroke-width="3.0"/>
<line x1="1009.7" y1="652.8" x2="1009.7" y2="645.3" stroke="#000" stroke-width="3.0"/>
<line x1="1028.9" y1="652.8" x2="1028.9" y2="645.3" stroke="#000" stroke-width="3.0"/>
<line x1="1048.1" y1="652.8" x2="1048.1" y2="645.3" stroke="#000" stroke-width="3.0"/>
<line x1="1067.3" y1="642.8" x2="1067.3" y2="663.3" stroke="#000" stroke-width="3.0"/>
<line x1="1086.4" y1="652.8" x2="1086.4" y2="645.3" stroke="#000" stroke-width="3.0"/>
<line x1="1105.6" y1="652.8" x2="1105.6" y2="645.3" stroke="#000" stroke-width="3.0"/>
<line x1="1124.8" y1="652.8" x2="1124.8" y2="645.3" stroke="#000" stroke-width="3.0"/>
<line x1="1144.0" y1="652.8" x2="1144.0" y2="645.3" stroke="#000" stroke-width="3.0"/>
<line x1="1163.2" y1="642.8" x2="1163.2" y2="663.3" stroke="#000" stroke-width="3.0"/>
<line x1="1182.3" y1="652.8" x2="1182.3" y2="645.3" stroke="#000" stroke-width="3.0"/>
<line x1="1201.5" y1="652.8" x2="1201.5" y2="645.3" stroke="#000" stroke-width="3.0"/>
<line x1="1220.7" y1="652.8" x2="1220.7" y2="645.3" stroke="#000" stroke-width="3.0"/>
<line x1="1239.9" y1="652.8" x2="1239.9" y2="645.3" stroke="#000" stroke-width="3.0"/>
<line x1="1259.0" y1="642.8" x2="1259.0" y2="663.3" stroke="#000" stroke-width="3.0"/>
<line x1="1278.2" y1="652.8" x2="1278.2" y2="645.3" stroke="#000" stroke-width="3.0"/>
<line x1="1297.4" y1="652.8" x2="1297.4" y2="645.3" stroke="#000" stroke-width="3.0"/>
<line x1="1316.6" y1="652.8" x2="1316.6" y2="645.3" stroke="#000" stroke-width="3.0"/>
<line x1="1335.8" y1="652.8" x2="1335.8" y2="645.3" stroke="#000" stroke-width="3.0"/>
<line x1="1354.9" y1="642.8" x2="1354.9" y2="663.3" stroke="#000" stroke-width="3.0"/>
<line x1="1374.1" y1="652.8" x2="1374.1" y2="645.3" stroke="#000" stroke-width="3.0"/>
<line x1="1393.3" y1="652.8" x2="1393.3" y2="645.3" stroke="#000" stroke-width="3.0"/>
<line x1="1412.5" y1="652.8" x2="1412.5" y2="645.3" stroke="#000" stroke-width="3.0"/>
<line x1="1431.6" y1="652.8" x2="1431.6" y2="645.3" stroke="#000" stroke-width="3.0"/>
<line x1="1450.8" y1="642.8" x2="1450.8" y2="663.3" stroke="#000" stroke-width="3.0"/>
<line x1="1470.0" y1="652.8" x2="1470.0" y2="645.3" stroke="#000" stroke-width="3.0"/>
<line x1="1489.2" y1="652.8" x2="1489.2" y2="645.3" stroke="#000" stroke-width="3.0"/>
<line x1="1508.3" y1="652.8" x2="1508.3" y2="645.3" stroke="#000" stroke-width="3.0"/>
<line x1="1527.5" y1="652.8" x2="1527.5" y2="645.3" stroke="#000" stroke-width="3.0"/>
<line x1="1546.7" y1="642.8" x2="1546.7" y2="663.3" stroke="#000" stroke-width="3.0"/>
<g clip-path="url(#cb)" fill="none" stroke-width="5.0" stroke-linejoin="round" stroke-linecap="round"><path d="M877.6 494.0 L878.2 492.1 L878.7 490.2 L879.3 488.2 L879.9 486.3 L880.4 484.4 L881.0 482.5 L881.5 480.6 L882.1 478.6 L882.6 476.7 L883.1 474.8 L883.5 472.8 L884.0 470.9 L884.5 468.9 L884.9 467.0 L885.4 465.0 L885.8 463.1 L886.3 461.1 L886.7 459.2 L887.2 457.2 L887.6 455.3 L888.1 453.3 L888.5 451.4 L889.0 449.4 L889.5 447.5 L889.9 445.5 L890.4 443.6 L890.8 441.6 L891.2 439.7 L891.6 437.7 L892.1 435.8 L892.5 433.8 L892.8 431.9 L893.2 429.9 L893.6 427.9 L894.0 426.0 L894.4 424.0 L894.8 422.0 L895.2 420.1 L895.6 418.1 L896.0 416.2 L896.4 414.2 L896.8 412.3 L897.2 410.3 L897.6 408.3 L898.0 406.4 L898.5 404.4 L898.9 402.5 L899.3 400.5 L899.8 398.6 L900.2 396.6 L900.7 394.7 L901.2 392.7 L901.6 390.8 L902.1 388.8 L902.5 386.9 L903.0 384.9 L903.4 383.0 L903.9 381.0 L904.3 379.1 L904.7 377.1 L905.1 375.2 L905.5 373.2 L905.9 371.3 L906.3 369.3 L906.7 367.3 L907.1 365.4 L907.5 363.4 L907.9 361.4 L908.2 359.5 L908.6 357.5 L909.0 355.5 L909.3 353.6 L909.7 351.6 L910.0 349.6 L910.4 347.7 L910.8 345.7 L911.1 343.7 L911.4 341.8 L911.8 339.8 L912.1 337.8 L912.5 335.9 L912.8 333.9 L913.1 331.9 L913.5 329.9 L913.8 328.0 L914.1 326.0 L914.4 324.0 L914.8 322.0 L915.1 320.1 L915.4 318.1 L915.7 316.1 L916.0 314.1 L916.3 312.2 L916.6 310.2 L916.9 308.2 L917.2 306.2 L917.5 304.3 L917.8 302.3 L918.2 300.3 L918.5 298.3 L918.8 296.3 L919.1 294.4 L919.3 292.4 L919.6 290.4 L919.9 288.4 L920.2 286.4 L920.5 284.5 L920.8 282.5 L921.1 280.5 L921.4 278.5 L921.7 276.6 L922.0 274.6 L922.3 272.6 L922.6 270.6 L922.9 268.6 L923.2 266.7 L923.5 264.7 L923.8 262.7 L924.1 260.7 L924.4 258.8 L924.7 256.8 L925.1 254.8 L925.4 252.8 L925.7 250.9 L926.1 248.9 L926.4 246.9 L926.8 245.0 L927.1 243.0 L927.4 241.0 L927.7 239.0 L928.0 237.1 L928.3 235.1 L928.6 233.1 L928.8 231.1 L929.1 229.1 L929.3 227.1 L929.5 225.2 L929.8 223.2 L930.0 221.2 L930.3 219.2 L930.5 217.2 L930.8 215.2 L931.1 213.2 L931.4 211.3 L931.7 209.3 L932.0 207.3 L932.3 205.3 L932.7 203.4 L933.0 201.4 L933.4 199.4 L933.7 197.5 L934.1 195.5 L934.5 193.5 L934.8 191.6 L935.2 189.6 L935.6 187.6 L936.0 185.7 L936.3 183.7 L936.7 181.8 L937.1 179.8 L937.5 177.8 L937.9 175.9 L938.4 173.9 L938.8 172.0 L939.2 170.0 L939.6 168.1 L940.1 166.1 L940.5 164.2 L941.0 162.2 L941.4 160.3 L941.9 158.3 L942.4 156.4 L942.9 154.4 L943.4 152.5 L943.9 150.6 L944.5 148.7 L945.1 146.7 L945.7 144.8 L946.3 142.9 L947.0 141.1 L947.8 139.2 L948.7 137.4 L949.6 135.7 L950.6 134.0 L951.7 132.3 L952.9 130.7 L954.2 129.3 L955.7 128.4 L957.3 128.3 L958.8 129.0 L960.2 130.3 L961.5 131.8 L962.6 133.4 L963.7 135.1 L964.8 136.8 L965.9 138.5 L966.9 140.2 L967.9 141.9 L968.9 143.6 L969.9 145.3 L970.9 147.1 L971.8 148.9 L972.7 150.6 L973.6 152.4 L974.5 154.2 L975.4 156.0 L976.3 157.8 L977.4 159.5 L978.4 161.2 L979.6 162.8 L980.7 164.5 L981.9 166.1 L983.0 167.7 L984.1 169.4 L985.2 171.1 L986.3 172.7 L987.5 174.3 L988.8 175.9 L990.2 177.2 L991.7 178.5 L993.3 179.8 L994.8 181.1 L996.3 182.4 L997.7 183.8 L999.1 185.3 L1000.4 186.8 L1001.7 188.3 L1002.9 189.9 L1004.2 191.5 L1005.3 193.1 L1006.4 194.7 L1007.5 196.4 L1008.7 198.1 L1009.8 199.7 L1011.0 201.3 L1012.2 202.9 L1013.4 204.5 L1014.5 206.2 L1015.5 207.9 L1016.5 209.6 L1017.5 211.4 L1018.4 213.2 L1019.3 215.0 L1020.1 216.8 L1021.0 218.6 L1021.9 220.4 L1022.7 222.2 L1023.6 224.0 L1024.5 225.8 L1025.4 227.5 L1026.3 229.3 L1027.2 231.1 L1028.1 232.9 L1028.9 234.7 L1029.8 236.5 L1030.6 238.3 L1031.5 240.2 L1032.3 242.0 L1033.1 243.8 L1033.9 245.6 L1034.7 247.5 L1035.5 249.3 L1036.3 251.1 L1037.1 253.0 L1037.9 254.8 L1038.8 256.6 L1039.6 258.4 L1040.4 260.3 L1041.2 262.1 L1042.0 263.9 L1042.8 265.7 L1043.7 267.6 L1044.5 269.4 L1045.3 271.2 L1046.1 273.1 L1046.9 274.9 L1047.7 276.7 L1048.5 278.5 L1049.3 280.4 L1050.1 282.2 L1050.9 284.0 L1051.8 285.9 L1052.6 287.7 L1053.4 289.5 L1054.2 291.3 L1055.0 293.2 L1055.8 295.0 L1056.7 296.8 L1057.5 298.6 L1058.3 300.4 L1059.1 302.3 L1059.9 304.1 L1060.7 306.0 L1061.4 307.8 L1062.1 309.7 L1062.8 311.6 L1063.5 313.5 L1064.1 315.3 L1064.8 317.2 L1065.5 319.1 L1066.1 321.0 L1066.8 322.9 L1067.5 324.8 L1068.1 326.7 L1068.8 328.6 L1069.4 330.4 L1070.1 332.3 L1070.8 334.2 L1071.4 336.1 L1072.0 338.0 L1072.7 339.9 L1073.4 341.8 L1074.0 343.7 L1074.7 345.5 L1075.4 347.4 L1076.2 349.3 L1077.0 351.1 L1077.8 352.9 L1078.6 354.7 L1079.5 356.5 L1080.4 358.3 L1081.3 360.1 L1082.3 361.9 L1083.2 363.6 L1084.1 365.4 L1085.0 367.2 L1085.9 369.0 L1086.8 370.8 L1087.7 372.6 L1088.5 374.4 L1089.4 376.2 L1090.2 378.0 L1091.0 379.9 L1091.8 381.7 L1092.6 383.5 L1093.4 385.4 L1094.2 387.2 L1095.1 389.0 L1095.9 390.8 L1096.7 392.6 L1097.6 394.4 L1098.4 396.3 L1099.3 398.1 L1100.2 399.8 L1101.1 401.6 L1102.0 403.4 L1102.9 405.2 L1103.8 407.0 L1104.7 408.8 L1105.6 410.6 L1106.5 412.4 L1107.4 414.1 L1108.3 415.9 L1109.2 417.7 L1110.1 419.5 L1111.1 421.2 L1112.0 423.0 L1112.9 424.8 L1113.8 426.6 L1114.8 428.3 L1115.7 430.1 L1116.7 431.9 L1117.6 433.6 L1118.6 435.4 L1119.6 437.1 L1120.5 438.9 L1121.5 440.6 L1122.5 442.3 L1123.6 444.0 L1124.6 445.7 L1125.7 447.4 L1126.7 449.1 L1127.8 450.8 L1128.9 452.5 L1130.0 454.2 L1131.1 455.9 L1132.2 457.5 L1133.2 459.2 L1134.3 460.9 L1135.5 462.6 L1136.6 464.2 L1137.7 465.9 L1138.8 467.6 L1139.9 469.2 L1141.0 470.9 L1142.2 472.5 L1143.5 474.0 L1144.7 475.6 L1146.0 477.1 L1147.3 478.6 L1148.6 480.1 L1149.9 481.6 L1151.3 483.1 L1152.6 484.6 L1153.9 486.1 L1155.2 487.6 L1156.6 489.1 L1157.9 490.6 L1159.2 492.1 L1160.5 493.7 L1161.8 495.2 L1163.1 496.7 L1164.4 498.2 L1165.7 499.7 L1167.1 501.2 L1168.4 502.7 L1169.7 504.2 L1171.1 505.7 L1172.4 507.2 L1173.8 508.6 L1175.2 510.1 L1176.6 511.5 L1178.0 512.9 L1179.4 514.3 L1180.8 515.8 L1182.2 517.2 L1183.6 518.6 L1185.1 520.0 L1186.5 521.4 L1187.9 522.8 L1189.3 524.2 L1190.7 525.6 L1192.1 527.1 L1193.5 528.5 L1194.9 529.9 L1196.3 531.3 L1197.7 532.8 L1199.1 534.2 L1200.6 535.6 L1202.0 537.0 L1203.4 538.4 L1204.8 539.8 L1206.3 541.2 L1207.8 542.5 L1209.3 543.8 L1210.8 545.2 L1212.3 546.5 L1213.8 547.8 L1215.3 549.0 L1216.9 550.3 L1218.4 551.7 L1219.9 553.0 L1221.4 554.3 L1222.8 555.7 L1224.3 557.0 L1225.7 558.4 L1227.2 559.8 L1228.6 561.2 L1230.0 562.7 L1231.4 564.1 L1232.8 565.5 L1234.2 566.9 L1235.6 568.4 L1237.0 569.8 L1238.4 571.2 L1239.8 572.6 L1241.2 574.0 L1242.6 575.5 L1244.0 576.9 L1245.4 578.3 L1246.8 579.8 L1248.2 581.2 L1249.7 582.6 L1251.1 584.0 L1252.5 585.4 L1254.0 586.8 L1255.4 588.1 L1256.9 589.5 L1258.4 590.9 L1259.8 592.2 L1261.3 593.5 L1262.9 594.8 L1264.4 596.1 L1266.0 597.3 L1267.6 598.5 L1269.2 599.6 L1270.9 600.7 L1272.6 601.8 L1274.3 602.9 L1276.0 603.9 L1277.7 604.9 L1279.5 605.9 L1281.2 606.9 L1282.9 607.9 L1284.7 608.8 L1286.5 609.8 L1288.2 610.7 L1290.0 611.6 L1291.8 612.6 L1293.6 613.4 L1295.4 614.3 L1297.2 615.2 L1299.0 616.0 L1300.8 616.8 L1302.7 617.6 L1304.5 618.4 L1306.4 619.2 L1308.2 619.9 L1310.1 620.7 L1311.9 621.4 L1313.8 622.1 L1315.7 622.8 L1317.6 623.5 L1319.5 624.1 L1321.3 624.8 L1323.2 625.4 L1325.1 626.0 L1327.1 626.6 L1329.0 627.2 L1330.9 627.7 L1332.8 628.2 L1334.8 628.8 L1336.7 629.3 L1338.6 629.8 L1340.6 630.2 L1342.5 630.7 L1344.5 631.1 L1346.4 631.5 L1348.4 631.9 L1350.4 632.3 L1352.3 632.6 L1354.3 633.0 L1356.3 633.3 L1358.3 633.6 L1360.2 633.9 L1362.2 634.1 L1364.2 634.4 L1366.2 634.7 L1368.2 634.9 L1370.2 635.1 L1372.1 635.4 L1374.1 635.6 L1376.1 635.8 L1378.1 635.9 L1380.1 636.1 L1382.1 636.3 L1384.1 636.5 L1386.1 636.6 L1388.1 636.8 L1390.1 637.0 L1392.1 637.1 L1394.1 637.3 L1396.1 637.4 L1398.1 637.6 L1400.0 637.7 L1402.0 637.8 L1404.0 638.0 L1406.0 638.1 L1408.0 638.2 L1410.0 638.3 L1412.0 638.4 L1414.0 638.5 L1416.0 638.6 L1418.0 638.7 L1420.0 638.8 L1422.0 638.9 L1424.0 638.9 L1426.0 639.0 L1428.0 639.1 L1430.0 639.2 L1432.0 639.2 L1434.0 639.3 L1436.0 639.4 L1438.0 639.4 L1440.0 639.5 L1442.0 639.5 L1444.0 639.6 L1446.0 639.7 L1448.0 639.7 L1450.0 639.8 L1452.0 639.9 L1454.0 639.9 L1456.0 640.0 L1458.0 640.0 L1460.0 640.1 L1462.0 640.1 L1464.0 640.2 L1466.0 640.2 L1468.0 640.3 L1470.0 640.3 L1472.0 640.4 L1474.0 640.4 L1476.0 640.5 L1478.0 640.5 L1480.0 640.6 L1482.0 640.6 L1484.0 640.6 L1486.0 640.7 L1488.0 640.7 L1490.0 640.8 L1492.0 640.8 L1494.0 640.8 L1496.0 640.9 L1498.0 640.9 L1500.0 640.9 L1502.0 641.0 L1504.0 641.0 L1506.0 641.0 L1508.0 641.1 L1510.0 641.1 L1512.0 641.1 L1514.0 641.2 L1516.0 641.2 L1518.0 641.2 L1520.0 641.2 L1522.0 641.3 L1524.0 641.3 L1526.0 641.3 L1528.0 641.4 L1530.0 641.4 L1532.0 641.4 L1534.0 641.4 L1536.0 641.5 L1538.0 641.5 L1540.0 641.5 L1542.0 641.5 L1544.0 641.6 L1546.0 641.6 L1547.0 641.6" stroke="#1560c4"/><path d="M877.3 217.3 L878.3 215.6 L879.4 213.9 L880.4 212.2 L881.5 210.5 L882.6 208.8 L883.7 207.1 L884.8 205.5 L885.9 203.8 L887.0 202.1 L888.1 200.4 L889.1 198.7 L890.1 197.0 L891.1 195.3 L892.1 193.5 L893.0 191.7 L893.9 189.9 L894.7 188.1 L895.4 186.3 L896.2 184.4 L897.0 182.5 L897.7 180.7 L898.5 178.9 L899.3 177.0 L900.1 175.2 L900.9 173.4 L901.8 171.6 L902.7 169.8 L903.6 168.0 L904.5 166.2 L905.4 164.4 L906.3 162.6 L907.1 160.8 L907.9 159.0 L908.7 157.1 L909.5 155.3 L910.3 153.5 L911.2 151.6 L912.0 149.8 L912.8 148.0 L913.7 146.2 L914.6 144.4 L915.5 142.7 L916.6 140.9 L917.7 139.3 L918.9 137.7 L920.2 136.2 L921.6 134.7 L923.0 133.4 L924.6 132.1 L926.2 131.0 L928.0 130.1 L929.8 129.4 L931.7 128.9 L933.7 128.7 L935.6 128.9 L937.5 129.4 L939.3 130.2 L941.0 131.2 L942.7 132.3 L944.3 133.5 L945.9 134.6 L947.6 135.7 L949.3 136.8 L951.0 137.8 L952.7 138.8 L954.4 139.9 L956.0 141.1 L957.6 142.4 L959.1 143.6 L960.7 144.9 L962.3 146.1 L963.9 147.3 L965.5 148.4 L967.3 149.4 L969.1 150.1 L971.0 150.6 L972.9 151.1 L974.9 151.5 L976.9 151.9 L978.8 152.3 L980.8 152.7 L982.7 153.2 L984.7 153.7 L986.6 154.3 L988.5 154.9 L990.4 155.6 L992.2 156.3 L994.0 157.2 L995.8 158.1 L997.5 159.1 L999.2 160.2 L1000.8 161.3 L1002.4 162.6 L1003.9 163.9 L1005.4 165.2 L1006.8 166.6 L1008.2 168.1 L1009.6 169.5 L1010.9 171.0 L1012.3 172.5 L1013.6 174.0 L1014.9 175.5 L1016.1 177.1 L1017.3 178.7 L1018.4 180.4 L1019.5 182.0 L1020.6 183.7 L1021.7 185.4 L1022.7 187.1 L1023.7 188.9 L1024.6 190.6 L1025.5 192.4 L1026.4 194.2 L1027.3 196.0 L1028.1 197.8 L1029.0 199.7 L1029.8 201.5 L1030.7 203.3 L1031.5 205.1 L1032.4 206.9 L1033.2 208.7 L1034.0 210.6 L1034.8 212.4 L1035.6 214.2 L1036.4 216.1 L1037.2 217.9 L1037.9 219.8 L1038.7 221.6 L1039.5 223.4 L1040.3 225.3 L1041.1 227.1 L1041.9 228.9 L1042.7 230.8 L1043.5 232.6 L1044.4 234.4 L1045.3 236.2 L1046.2 238.0 L1047.2 239.7 L1048.1 241.5 L1049.1 243.2 L1050.1 244.9 L1051.1 246.7 L1052.1 248.4 L1053.0 250.2 L1053.9 252.0 L1054.8 253.8 L1055.6 255.6 L1056.4 257.5 L1057.2 259.3 L1058.0 261.2 L1058.8 263.0 L1059.5 264.8 L1060.3 266.7 L1061.1 268.5 L1061.9 270.4 L1062.7 272.2 L1063.5 274.0 L1064.4 275.8 L1065.2 277.6 L1066.1 279.4 L1067.0 281.2 L1068.0 283.0 L1069.0 284.7 L1070.0 286.4 L1071.0 288.2 L1072.0 289.9 L1072.9 291.7 L1073.9 293.4 L1074.8 295.2 L1075.7 297.0 L1076.6 298.8 L1077.5 300.6 L1078.4 302.4 L1079.3 304.2 L1080.2 306.0 L1081.0 307.8 L1081.9 309.6 L1082.7 311.4 L1083.6 313.2 L1084.4 315.0 L1085.3 316.8 L1086.1 318.6 L1086.9 320.5 L1087.8 322.3 L1088.6 324.1 L1089.4 325.9 L1090.2 327.8 L1091.1 329.6 L1091.9 331.4 L1092.7 333.2 L1093.5 335.1 L1094.3 336.9 L1095.1 338.7 L1095.9 340.6 L1096.7 342.4 L1097.5 344.2 L1098.3 346.1 L1099.2 347.9 L1100.1 349.7 L1101.0 351.4 L1102.0 353.2 L1102.9 354.9 L1103.9 356.7 L1105.0 358.4 L1106.0 360.1 L1107.1 361.8 L1108.2 363.5 L1109.3 365.1 L1110.4 366.8 L1111.5 368.5 L1112.6 370.1 L1113.7 371.8 L1114.8 373.5 L1115.9 375.2 L1116.9 376.9 L1118.0 378.6 L1119.1 380.2 L1120.2 381.9 L1121.2 383.6 L1122.3 385.3 L1123.4 387.0 L1124.5 388.7 L1125.5 390.4 L1126.6 392.1 L1127.7 393.8 L1128.8 395.4 L1129.8 397.1 L1130.9 398.8 L1132.0 400.5 L1133.1 402.2 L1134.1 403.9 L1135.2 405.6 L1136.3 407.3 L1137.4 408.9 L1138.5 410.6 L1139.5 412.3 L1140.6 414.0 L1141.7 415.7 L1142.8 417.4 L1143.9 419.0 L1144.9 420.7 L1146.0 422.4 L1147.1 424.1 L1148.2 425.8 L1149.3 427.5 L1150.3 429.2 L1151.4 430.8 L1152.5 432.5 L1153.6 434.2 L1154.7 435.9 L1155.8 437.6 L1156.8 439.3 L1157.9 440.9 L1159.0 442.6 L1160.1 444.3 L1161.2 446.0 L1162.3 447.6 L1163.4 449.3 L1164.5 451.0 L1165.6 452.7 L1166.7 454.3 L1167.8 456.0 L1169.0 457.6 L1170.2 459.2 L1171.4 460.8 L1172.7 462.3 L1174.0 463.9 L1175.3 465.4 L1176.6 466.9 L1177.9 468.4 L1179.3 469.9 L1180.6 471.4 L1181.9 472.9 L1183.3 474.3 L1184.6 475.8 L1185.9 477.3 L1187.3 478.8 L1188.6 480.3 L1189.9 481.8 L1191.3 483.3 L1192.6 484.8 L1193.9 486.3 L1195.2 487.8 L1196.6 489.3 L1197.9 490.8 L1199.2 492.3 L1200.6 493.8 L1201.9 495.3 L1203.2 496.8 L1204.6 498.3 L1205.9 499.8 L1207.2 501.2 L1208.6 502.7 L1209.9 504.2 L1211.3 505.7 L1212.6 507.2 L1213.9 508.7 L1215.2 510.2 L1216.6 511.7 L1217.8 513.2 L1219.1 514.8 L1220.4 516.3 L1221.6 517.9 L1222.9 519.5 L1224.1 521.1 L1225.3 522.7 L1226.5 524.3 L1227.7 525.8 L1228.9 527.4 L1230.2 529.0 L1231.4 530.6 L1232.7 532.1 L1233.9 533.7 L1235.2 535.2 L1236.5 536.7 L1237.8 538.3 L1239.1 539.8 L1240.5 541.3 L1241.8 542.8 L1243.1 544.3 L1244.5 545.8 L1245.8 547.3 L1247.1 548.8 L1248.4 550.3 L1249.8 551.8 L1251.1 553.3 L1252.4 554.8 L1253.7 556.2 L1255.1 557.7 L1256.4 559.2 L1257.7 560.7 L1259.1 562.2 L1260.4 563.7 L1261.7 565.2 L1263.1 566.7 L1264.4 568.2 L1265.6 569.8 L1266.9 571.3 L1268.3 572.8 L1269.7 574.2 L1271.2 575.5 L1272.7 576.8 L1274.2 578.1 L1275.8 579.4 L1277.3 580.6 L1278.9 581.9 L1280.4 583.1 L1282.0 584.4 L1283.6 585.6 L1285.2 586.8 L1286.8 588.0 L1288.4 589.2 L1290.1 590.4 L1291.7 591.5 L1293.4 592.6 L1295.1 593.7 L1296.8 594.7 L1298.5 595.8 L1300.2 596.8 L1301.9 597.8 L1303.7 598.8 L1305.4 599.8 L1307.2 600.7 L1308.9 601.7 L1310.7 602.6 L1312.4 603.6 L1314.2 604.5 L1316.0 605.4 L1317.8 606.3 L1319.6 607.2 L1321.4 608.1 L1323.2 609.0 L1325.0 609.8 L1326.8 610.7 L1328.6 611.5 L1330.4 612.3 L1332.3 613.1 L1334.1 613.9 L1336.0 614.7 L1337.8 615.4 L1339.7 616.2 L1341.5 616.9 L1343.4 617.6 L1345.3 618.3 L1347.2 619.0 L1349.1 619.6 L1351.0 620.2 L1352.9 620.9 L1354.8 621.4 L1356.7 622.0 L1358.6 622.6 L1360.6 623.1 L1362.5 623.7 L1364.4 624.2 L1366.3 624.7 L1368.3 625.3 L1370.2 625.8 L1372.1 626.3 L1374.1 626.8 L1376.0 627.3 L1377.9 627.8 L1379.9 628.3 L1381.8 628.8 L1383.8 629.2 L1385.7 629.7 L1387.7 630.1 L1389.6 630.5 L1391.6 631.0 L1393.6 631.4 L1395.5 631.8 L1397.5 632.2 L1399.4 632.6 L1401.4 632.9 L1403.4 633.3 L1405.3 633.6 L1407.3 634.0 L1409.3 634.3 L1411.3 634.6 L1413.2 635.0 L1415.2 635.3 L1417.2 635.6 L1419.2 635.8 L1421.2 636.1 L1423.2 636.4 L1425.1 636.6 L1427.1 636.9 L1429.1 637.1 L1431.1 637.4 L1433.1 637.6 L1435.1 637.8 L1437.1 638.0 L1439.1 638.2 L1441.1 638.4 L1443.0 638.5 L1445.0 638.7 L1447.0 638.8 L1449.0 638.9 L1451.0 639.0 L1453.0 639.1 L1455.0 639.2 L1457.0 639.3 L1459.0 639.4 L1461.0 639.5 L1463.0 639.5 L1465.0 639.6 L1467.0 639.7 L1469.0 639.8 L1471.0 640.0 L1473.0 640.1 L1475.0 640.2 L1477.0 640.3 L1479.0 640.4 L1481.0 640.5 L1483.0 640.6 L1485.0 640.6 L1487.0 640.7 L1489.0 640.8 L1491.0 640.8 L1493.0 640.9 L1495.0 640.9 L1497.0 640.9 L1499.0 641.0 L1501.0 641.0 L1503.0 641.0 L1505.0 641.0 L1507.0 641.0 L1509.0 641.0 L1511.0 641.0 L1513.0 641.0 L1515.0 641.0 L1517.0 640.9 L1519.0 640.9 L1521.0 640.7 L1523.0 640.5 L1525.0 640.2 L1526.9 639.7 L1528.9 639.2 L1530.8 638.6 L1532.7 637.9 L1534.6 637.3 L1536.5 636.7 L1538.4 636.1 L1540.3 635.5 L1542.2 635.0 L1544.1 634.4 L1546.0 633.8 L1547.0 633.5" stroke="#0a9c48"/><path d="M876.3 438.5 L876.5 436.5 L876.6 434.5 L876.8 432.5 L876.9 430.5 L877.1 428.5 L877.3 426.5 L877.5 424.5 L877.7 422.5 L877.9 420.6 L878.2 418.6 L878.5 416.6 L878.8 414.6 L879.2 412.7 L879.6 410.7 L880.0 408.7 L880.4 406.8 L880.9 404.8 L881.3 402.9 L881.7 400.9 L882.1 399.0 L882.5 397.0 L882.9 395.0 L883.2 393.1 L883.6 391.1 L884.0 389.1 L884.3 387.2 L884.7 385.2 L885.1 383.2 L885.4 381.3 L885.8 379.3 L886.2 377.3 L886.6 375.4 L887.0 373.4 L887.4 371.4 L887.8 369.5 L888.2 367.5 L888.6 365.6 L889.0 363.6 L889.4 361.7 L889.8 359.7 L890.2 357.7 L890.6 355.8 L890.9 353.8 L891.3 351.8 L891.6 349.8 L891.9 347.9 L892.3 345.9 L892.6 343.9 L892.9 341.9 L893.2 340.0 L893.5 338.0 L893.9 336.0 L894.2 334.0 L894.5 332.1 L894.9 330.1 L895.2 328.1 L895.6 326.2 L896.0 324.2 L896.4 322.2 L896.7 320.3 L897.1 318.3 L897.5 316.4 L897.9 314.4 L898.4 312.4 L898.8 310.5 L899.2 308.5 L899.6 306.6 L900.0 304.6 L900.4 302.6 L900.8 300.7 L901.2 298.7 L901.5 296.7 L901.9 294.8 L902.3 292.8 L902.7 290.8 L903.0 288.9 L903.4 286.9 L903.8 284.9 L904.2 283.0 L904.5 281.0 L904.9 279.0 L905.3 277.1 L905.7 275.1 L906.1 273.2 L906.5 271.2 L906.9 269.2 L907.3 267.3 L907.7 265.3 L908.1 263.4 L908.5 261.4 L908.9 259.4 L909.3 257.5 L909.7 255.5 L910.1 253.6 L910.5 251.6 L910.9 249.6 L911.3 247.7 L911.8 245.7 L912.2 243.8 L912.6 241.8 L913.0 239.8 L913.4 237.9 L913.7 235.9 L914.1 233.9 L914.5 232.0 L914.9 230.0 L915.2 228.0 L915.6 226.1 L915.9 224.1 L916.3 222.1 L916.7 220.2 L917.1 218.2 L917.5 216.3 L917.9 214.3 L918.3 212.3 L918.7 210.4 L919.1 208.4 L919.6 206.5 L920.0 204.5 L920.6 202.6 L921.1 200.7 L921.7 198.8 L922.2 196.9 L922.7 194.9 L923.2 193.0 L923.6 191.0 L924.1 189.1 L924.5 187.1 L925.0 185.2 L925.4 183.2 L925.9 181.3 L926.3 179.3 L926.8 177.4 L927.3 175.4 L927.8 173.5 L928.3 171.5 L928.8 169.6 L929.3 167.7 L929.8 165.7 L930.3 163.8 L930.9 161.9 L931.4 160.0 L932.0 158.1 L932.7 156.2 L933.3 154.3 L934.0 152.4 L934.8 150.5 L935.5 148.7 L936.4 146.9 L937.2 145.1 L938.1 143.3 L939.0 141.5 L940.0 139.7 L941.0 138.0 L942.0 136.3 L943.2 134.7 L944.4 133.1 L945.7 131.6 L947.2 130.2 L948.7 129.0 L950.4 128.2 L952.1 128.0 L953.8 128.4 L955.4 129.5 L956.7 130.9 L957.9 132.4 L959.0 134.1 L960.0 135.9 L960.9 137.6 L961.7 139.4 L962.5 141.3 L963.3 143.1 L964.1 145.0 L964.8 146.8 L965.6 148.7 L966.3 150.5 L967.0 152.4 L967.8 154.3 L968.5 156.1 L969.2 158.0 L969.8 159.9 L970.5 161.8 L971.1 163.7 L971.8 165.6 L972.4 167.5 L972.9 169.4 L973.5 171.3 L974.1 173.2 L974.7 175.2 L975.2 177.1 L975.8 179.0 L976.3 180.9 L976.9 182.9 L977.4 184.8 L977.9 186.7 L978.4 188.7 L979.0 190.6 L979.5 192.5 L980.0 194.4 L980.5 196.4 L981.1 198.3 L981.6 200.2 L982.1 202.2 L982.5 204.1 L983.0 206.1 L983.4 208.0 L983.8 210.0 L984.2 212.0 L984.6 213.9 L984.9 215.9 L985.3 217.9 L985.6 219.8 L986.0 221.8 L986.4 223.8 L986.7 225.7 L987.1 227.7 L987.4 229.7 L987.8 231.6 L988.2 233.6 L988.5 235.6 L988.9 237.6 L989.2 239.5 L989.6 241.5 L990.0 243.5 L990.3 245.4 L990.7 247.4 L991.1 249.4 L991.4 251.3 L991.8 253.3 L992.2 255.3 L992.6 257.2 L993.0 259.2 L993.5 261.1 L993.9 263.1 L994.4 265.0 L994.9 267.0 L995.4 268.9 L995.9 270.8 L996.4 272.8 L996.9 274.7 L997.4 276.6 L997.9 278.6 L998.4 280.5 L999.0 282.4 L999.5 284.4 L1000.0 286.3 L1000.6 288.2 L1001.1 290.1 L1001.7 292.1 L1002.3 294.0 L1002.8 295.9 L1003.4 297.8 L1004.1 299.7 L1004.7 301.6 L1005.3 303.5 L1005.9 305.4 L1006.5 307.3 L1007.1 309.2 L1007.7 311.2 L1008.3 313.1 L1008.9 315.0 L1009.5 316.9 L1010.1 318.8 L1010.7 320.7 L1011.3 322.6 L1011.8 324.6 L1012.3 326.5 L1012.7 328.4 L1013.1 330.4 L1013.5 332.4 L1013.9 334.3 L1014.2 336.3 L1014.6 338.3 L1014.9 340.2 L1015.2 342.2 L1015.6 344.2 L1015.9 346.2 L1016.2 348.1 L1016.6 350.1 L1016.9 352.1 L1017.3 354.1 L1017.7 356.0 L1018.1 358.0 L1018.5 359.9 L1018.9 361.9 L1019.3 363.8 L1019.8 365.8 L1020.3 367.7 L1020.8 369.7 L1021.3 371.6 L1021.8 373.5 L1022.3 375.5 L1022.9 377.4 L1023.4 379.3 L1023.9 381.3 L1024.5 383.2 L1025.0 385.1 L1025.6 387.0 L1026.1 389.0 L1026.6 390.9 L1027.1 392.8 L1027.6 394.8 L1028.2 396.7 L1028.7 398.6 L1029.2 400.6 L1029.6 402.5 L1030.1 404.5 L1030.6 406.4 L1031.1 408.3 L1031.7 410.3 L1032.2 412.2 L1032.7 414.1 L1033.2 416.1 L1033.7 418.0 L1034.3 419.9 L1034.8 421.8 L1035.4 423.8 L1036.0 425.7 L1036.6 427.6 L1037.2 429.5 L1037.8 431.4 L1038.5 433.3 L1039.1 435.2 L1039.7 437.1 L1040.4 439.0 L1041.0 440.9 L1041.7 442.8 L1042.3 444.7 L1043.0 446.5 L1043.6 448.4 L1044.3 450.3 L1044.9 452.2 L1045.6 454.1 L1046.2 456.0 L1046.8 457.9 L1047.4 459.8 L1048.1 461.7 L1048.7 463.6 L1049.3 465.5 L1049.9 467.4 L1050.5 469.3 L1051.2 471.2 L1051.8 473.1 L1052.4 475.0 L1053.1 476.9 L1053.8 478.8 L1054.5 480.7 L1055.2 482.6 L1055.9 484.4 L1056.6 486.3 L1057.3 488.2 L1058.1 490.0 L1058.8 491.9 L1059.6 493.7 L1060.4 495.6 L1061.1 497.4 L1061.9 499.2 L1062.8 501.1 L1063.6 502.9 L1064.4 504.7 L1065.3 506.5 L1066.2 508.3 L1067.1 510.1 L1068.0 511.9 L1068.9 513.7 L1069.9 515.4 L1070.8 517.2 L1071.8 518.9 L1072.8 520.7 L1073.8 522.4 L1074.8 524.1 L1075.8 525.9 L1076.8 527.6 L1077.9 529.3 L1078.9 531.0 L1080.0 532.7 L1081.1 534.4 L1082.1 536.1 L1083.2 537.7 L1084.3 539.4 L1085.5 541.1 L1086.6 542.7 L1087.8 544.3 L1089.0 545.9 L1090.3 547.4 L1091.6 548.9 L1093.0 550.4 L1094.4 551.8 L1095.9 553.2 L1097.4 554.5 L1098.9 555.8 L1100.5 557.0 L1102.1 558.1 L1103.8 559.2 L1105.6 560.2 L1107.3 561.1 L1109.2 561.9 L1111.0 562.6 L1112.9 563.3 L1114.8 563.9 L1116.8 564.4 L1118.7 564.8 L1120.7 565.1 L1122.7 565.4 L1124.6 565.6 L1126.6 565.8 L1128.6 565.8 L1130.6 565.8 L1132.6 565.7 L1134.6 565.5 L1136.6 565.2 L1138.6 564.9 L1140.5 564.5 L1142.5 564.0 L1144.4 563.5 L1146.3 562.9 L1148.2 562.3 L1150.1 561.6 L1152.0 560.9 L1153.8 560.1 L1155.6 559.3 L1157.5 558.5 L1159.2 557.6 L1161.0 556.7 L1162.8 555.7 L1164.5 554.8 L1166.3 553.8 L1168.0 552.8 L1169.8 551.8 L1171.5 550.9 L1173.3 549.8 L1175.0 548.8 L1176.7 547.7 L1178.3 546.7 L1180.0 545.6 L1181.7 544.5 L1183.4 543.4 L1185.1 542.4 L1186.8 541.4 L1188.6 540.4 L1190.4 539.5 L1192.2 538.7 L1194.0 537.9 L1195.9 537.1 L1197.8 536.5 L1199.7 535.8 L1201.6 535.2 L1203.5 534.7 L1205.4 534.1 L1207.4 533.7 L1209.3 533.3 L1211.3 532.9 L1213.3 532.6 L1215.3 532.5 L1217.3 532.4 L1219.2 532.4 L1221.2 532.6 L1223.2 532.9 L1225.2 533.3 L1227.1 533.8 L1229.0 534.4 L1230.9 535.1 L1232.8 535.8 L1234.6 536.5 L1236.4 537.4 L1238.2 538.2 L1240.0 539.1 L1241.8 540.1 L1243.5 541.1 L1245.2 542.2 L1246.8 543.3 L1248.5 544.5 L1250.1 545.7 L1251.7 546.9 L1253.2 548.1 L1254.8 549.3 L1256.4 550.6 L1258.0 551.8 L1259.5 553.0 L1261.1 554.2 L1262.7 555.5 L1264.3 556.7 L1265.9 557.8 L1267.6 559.0 L1269.2 560.2 L1270.8 561.4 L1272.4 562.5 L1274.1 563.7 L1275.7 564.9 L1277.3 566.1 L1278.9 567.2 L1280.6 568.4 L1282.2 569.5 L1283.8 570.7 L1285.5 571.8 L1287.1 572.9 L1288.8 574.0 L1290.5 575.1 L1292.2 576.2 L1293.9 577.3 L1295.6 578.3 L1297.3 579.3 L1299.0 580.4 L1300.7 581.4 L1302.5 582.4 L1304.2 583.4 L1305.9 584.4 L1307.7 585.4 L1309.4 586.4 L1311.1 587.4 L1312.9 588.4 L1314.6 589.3 L1316.4 590.3 L1318.1 591.3 L1319.9 592.2 L1321.6 593.2 L1323.4 594.1 L1325.2 595.1 L1326.9 596.0 L1328.7 597.0 L1330.5 597.9 L1332.2 598.8 L1334.0 599.8 L1335.8 600.7 L1337.6 601.6 L1339.4 602.5 L1341.1 603.4 L1342.9 604.3 L1344.7 605.2 L1346.6 606.0 L1348.4 606.8 L1350.2 607.7 L1352.0 608.5 L1353.9 609.2 L1355.7 610.0 L1357.6 610.8 L1359.4 611.5 L1361.3 612.2 L1363.2 612.9 L1365.1 613.5 L1367.0 614.2 L1368.9 614.8 L1370.8 615.3 L1372.7 615.9 L1374.7 616.4 L1376.6 616.9 L1378.6 617.3 L1380.5 617.8 L1382.5 618.2 L1384.4 618.7 L1386.4 619.1 L1388.3 619.6 L1390.3 620.0 L1392.2 620.4 L1394.2 620.8 L1396.2 621.2 L1398.1 621.6 L1400.1 621.9 L1402.1 622.3 L1404.0 622.7 L1406.0 623.1 L1408.0 623.4 L1409.9 623.8 L1411.9 624.2 L1413.9 624.5 L1415.8 624.9 L1417.8 625.2 L1419.8 625.6 L1421.7 625.9 L1423.7 626.3 L1425.7 626.6 L1427.7 627.0 L1429.6 627.3 L1431.6 627.6 L1433.6 628.0 L1435.5 628.3 L1437.5 628.7 L1439.5 629.0 L1441.5 629.3 L1443.4 629.6 L1445.4 629.9 L1447.4 630.3 L1449.4 630.6 L1451.3 630.9 L1453.3 631.2 L1455.3 631.5 L1457.3 631.8 L1459.3 632.1 L1461.2 632.3 L1463.2 632.6 L1465.2 632.9 L1467.2 633.2 L1469.2 633.4 L1471.2 633.7 L1473.1 633.9 L1475.1 634.2 L1477.1 634.4 L1479.1 634.7 L1481.1 634.9 L1483.1 635.1 L1485.1 635.3 L1487.1 635.5 L1489.1 635.7 L1491.1 635.8 L1493.1 636.0 L1495.0 636.1 L1497.0 636.3 L1499.0 636.4 L1501.0 636.5 L1503.0 636.7 L1505.0 636.8 L1507.0 636.9 L1509.0 637.0 L1511.0 637.1 L1513.0 637.2 L1515.0 637.3 L1517.0 637.4 L1519.0 637.5 L1521.0 637.6 L1523.0 637.7 L1525.0 637.8 L1527.0 637.9 L1529.0 638.0 L1531.0 638.1 L1533.0 638.2 L1535.0 638.4 L1537.0 638.5 L1539.0 638.6 L1541.0 638.7 L1543.0 638.8 L1545.0 638.9 L1547.0 639.0" stroke="#c8323a"/></g>
<text x="845.2" y="661.8" font-size="28.0" font-weight="normal" text-anchor="end" textLength="15.3" lengthAdjust="spacingAndGlyphs" stroke="#000" stroke-width="0.90" stroke-linejoin="round" fill="#000">0</text>
<text x="845.2" y="556.8" font-size="28.0" font-weight="normal" text-anchor="end" textLength="15.3" lengthAdjust="spacingAndGlyphs" stroke="#000" stroke-width="0.90" stroke-linejoin="round" fill="#000">2</text>
<text x="845.2" y="451.8" font-size="28.0" font-weight="normal" text-anchor="end" textLength="15.3" lengthAdjust="spacingAndGlyphs" stroke="#000" stroke-width="0.90" stroke-linejoin="round" fill="#000">4</text>
<text x="845.2" y="346.8" font-size="28.0" font-weight="normal" text-anchor="end" textLength="15.3" lengthAdjust="spacingAndGlyphs" stroke="#000" stroke-width="0.90" stroke-linejoin="round" fill="#000">6</text>
<text x="845.2" y="241.8" font-size="28.0" font-weight="normal" text-anchor="end" textLength="15.3" lengthAdjust="spacingAndGlyphs" stroke="#000" stroke-width="0.90" stroke-linejoin="round" fill="#000">8</text>
<text x="845.2" y="136.8" font-size="28.0" font-weight="normal" text-anchor="end" textLength="30.0" lengthAdjust="spacingAndGlyphs" stroke="#000" stroke-width="0.90" stroke-linejoin="round" fill="#000">10</text>
<text x="845.2" y="31.8" font-size="28.0" font-weight="normal" text-anchor="end" textLength="30.0" lengthAdjust="spacingAndGlyphs" stroke="#000" stroke-width="0.90" stroke-linejoin="round" fill="#000">12</text>
<text x="876.1" y="702.6" font-size="28.0" font-weight="normal" text-anchor="middle" textLength="47.0" lengthAdjust="spacingAndGlyphs" stroke="#000" stroke-width="0.90" stroke-linejoin="round" fill="#000">420</text>
<text x="972.0" y="702.6" font-size="28.0" font-weight="normal" text-anchor="middle" textLength="47.0" lengthAdjust="spacingAndGlyphs" stroke="#000" stroke-width="0.90" stroke-linejoin="round" fill="#000">460</text>
<text x="1067.9" y="702.6" font-size="28.0" font-weight="normal" text-anchor="middle" textLength="47.0" lengthAdjust="spacingAndGlyphs" stroke="#000" stroke-width="0.90" stroke-linejoin="round" fill="#000">500</text>
<text x="1163.8" y="702.6" font-size="28.0" font-weight="normal" text-anchor="middle" textLength="47.0" lengthAdjust="spacingAndGlyphs" stroke="#000" stroke-width="0.90" stroke-linejoin="round" fill="#000">540</text>
<text x="1259.6" y="702.6" font-size="28.0" font-weight="normal" text-anchor="middle" textLength="47.0" lengthAdjust="spacingAndGlyphs" stroke="#000" stroke-width="0.90" stroke-linejoin="round" fill="#000">580</text>
<text x="1355.5" y="702.6" font-size="28.0" font-weight="normal" text-anchor="middle" textLength="47.0" lengthAdjust="spacingAndGlyphs" stroke="#000" stroke-width="0.90" stroke-linejoin="round" fill="#000">620</text>
<text x="1451.4" y="702.6" font-size="28.0" font-weight="normal" text-anchor="middle" textLength="47.0" lengthAdjust="spacingAndGlyphs" stroke="#000" stroke-width="0.90" stroke-linejoin="round" fill="#000">660</text>
<text x="1547.3" y="702.6" font-size="28.0" font-weight="normal" text-anchor="middle" textLength="47.0" lengthAdjust="spacingAndGlyphs" stroke="#000" stroke-width="0.90" stroke-linejoin="round" fill="#000">700</text>
<text x="1082.5" y="757.4" font-size="33.2" font-weight="normal" text-anchor="start" textLength="258.0" lengthAdjust="spacingAndGlyphs" stroke="#000" stroke-width="1.20" stroke-linejoin="round" fill="#000">Wavelength (nm)</text>
<text transform="translate(787.6 583.5) rotate(-90)" x="0" y="0" font-size="28.5" textLength="420" lengthAdjust="spacingAndGlyphs" stroke="#000" stroke-width="1.3" stroke-linejoin="round">Normalized Emission Intensity</text>
<line x1="1222.5" y1="93.9" x2="1260.5" y2="93.9" stroke="#1560c4" stroke-width="5.8" stroke-linecap="round"/>
<text x="1264.5" y="101.2" font-size="24.6" font-weight="bold" text-anchor="start" textLength="280.0" lengthAdjust="spacingAndGlyphs" fill="#000">TiO2+ Pomegranate dye</text>
<line x1="1222.5" y1="153.4" x2="1260.5" y2="153.4" stroke="#0a9c48" stroke-width="5.8" stroke-linecap="round"/>
<text x="1264.5" y="160.7" font-size="24.6" font-weight="bold" text-anchor="start" textLength="52.5" lengthAdjust="spacingAndGlyphs" fill="#000">TiO2</text>
<line x1="1222.5" y1="213.0" x2="1260.5" y2="213.0" stroke="#c43232" stroke-width="5.8" stroke-linecap="round"/>
<text x="1264.5" y="220.3" font-size="24.6" font-weight="bold" text-anchor="start" textLength="205.0" lengthAdjust="spacingAndGlyphs" fill="#000">Pomegranate dye</text>
<text x="745.5" y="53.6" font-size="44.0" font-weight="bold" text-anchor="start" textLength="36.5" lengthAdjust="spacingAndGlyphs" fill="#000">b.</text>
</svg>
</body></html>
